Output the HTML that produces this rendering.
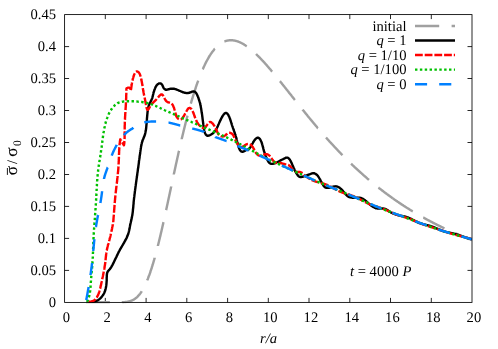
<!DOCTYPE html>
<html><head><meta charset="utf-8"><title>plot</title>
<style>html,body{margin:0;padding:0;background:#fff}svg{display:block;text-rendering:geometricPrecision;will-change:transform}</style></head>
<body>
<svg width="498" height="349" viewBox="0 0 498 349">
<rect width="498" height="349" fill="#fff"/>
<defs><clipPath id="c"><rect x="64.6" y="14.6" width="407.4" height="288.9"/></clipPath></defs>
<path d="M105.3 302.4 v-4.5 M105.3 14.6 v4.5 M146.1 302.4 v-4.5 M146.1 14.6 v4.5 M186.8 302.4 v-4.5 M186.8 14.6 v4.5 M227.6 302.4 v-4.5 M227.6 14.6 v4.5 M268.3 302.4 v-4.5 M268.3 14.6 v4.5 M309.0 302.4 v-4.5 M309.0 14.6 v4.5 M349.8 302.4 v-4.5 M349.8 14.6 v4.5 M390.5 302.4 v-4.5 M390.5 14.6 v4.5 M431.3 302.4 v-4.5 M431.3 14.6 v4.5 M64.6 270.4 h4.5 M472.0 270.4 h-4.5 M64.6 238.4 h4.5 M472.0 238.4 h-4.5 M64.6 206.4 h4.5 M472.0 206.4 h-4.5 M64.6 174.5 h4.5 M472.0 174.5 h-4.5 M64.6 142.5 h4.5 M472.0 142.5 h-4.5 M64.6 110.5 h4.5 M472.0 110.5 h-4.5 M64.6 78.5 h4.5 M472.0 78.5 h-4.5 M64.6 46.6 h4.5 M472.0 46.6 h-4.5" stroke="#000" stroke-width="0.85" fill="none"/>
<g clip-path="url(#c)" fill="none" stroke-width="2.4" stroke-linejoin="round">
<path d="M86.0 302.4 L86.3 302.4 L86.6 302.4 L86.9 302.4 L87.2 302.4 L87.5 302.4 L87.8 302.4 L88.1 302.4 L88.4 302.4 L88.7 302.4 L89.0 302.4 L89.3 302.4 L89.6 302.4 L89.9 302.4 L90.2 302.4 L90.5 302.4 L90.8 302.4 L91.1 302.4 L91.4 302.4 L91.7 302.4 L92.0 302.4 L92.3 302.4 L92.6 302.4 L92.9 302.4 L93.2 302.4 L93.5 302.4 L93.8 302.4 L94.1 302.4 L94.4 302.4 L94.7 302.4 L95.0 302.4 L95.3 302.4 L95.6 302.3 L95.9 302.3 L96.2 302.3 L96.5 302.3 L96.8 302.3 L97.1 302.3 L97.4 302.3 L97.7 302.3 L98.0 302.3 L98.3 302.3 L98.6 302.3 L98.9 302.3 L99.2 302.3 L99.5 302.3 L99.8 302.3 L100.1 302.3 L100.4 302.3 L100.7 302.3 L101.0 302.3 L101.3 302.3 L101.6 302.3 L101.9 302.3 L102.2 302.3 L102.5 302.3 L102.8 302.3 L103.1 302.3 L103.4 302.3 L103.7 302.3 L104.0 302.3 L104.3 302.3 L104.6 302.3 L104.9 302.3 L105.2 302.3 L105.5 302.3 L105.8 302.3 L106.1 302.3 L106.4 302.3 L106.7 302.3 L107.0 302.3 L107.3 302.3 L107.6 302.3 L107.9 302.3 L108.2 302.3 L108.5 302.3 L108.8 302.3 L109.1 302.3 L109.4 302.3 L109.7 302.3 L109.9 302.3 M122.0 302.3 L122.3 302.2 L122.6 302.2 L122.9 302.2 L123.2 302.2 L123.5 302.2 L123.8 302.2 L124.1 302.1 L124.4 302.1 L124.7 302.1 L125.0 302.1 L125.3 302.0 L125.6 302.0 L125.9 302.0 L126.2 301.9 L126.5 301.9 L126.8 301.9 L127.1 301.8 L127.4 301.8 L127.7 301.7 L128.0 301.7 L128.2 301.6 L128.5 301.5 L128.8 301.5 L129.1 301.4 L129.4 301.3 L129.7 301.3 L130.0 301.2 L130.3 301.1 L130.6 301.0 L130.8 300.9 L131.1 300.8 L131.4 300.7 L131.7 300.6 L132.0 300.5 L132.2 300.3 L132.5 300.2 L132.8 300.1 L133.1 299.9 L133.3 299.8 L133.6 299.7 L133.8 299.5 L134.1 299.4 L134.4 299.2 L134.6 299.0 L134.9 298.9 L135.1 298.7 L135.3 298.5 L135.6 298.3 L135.8 298.2 L136.1 298.0 L136.3 297.8 L136.5 297.6 L136.7 297.4 L137.0 297.2 L137.2 297.0 L137.4 296.8 L137.6 296.6 L137.8 296.4 L138.0 296.1 L138.2 295.9 L138.4 295.7 L138.6 295.5 L138.8 295.2 L139.0 295.0 L139.2 294.8 L139.4 294.6 L139.6 294.3 L139.8 294.1 L140.0 293.9 L140.2 293.6 L140.3 293.4 L140.5 293.1 L140.7 292.9 L140.9 292.6 L141.0 292.4 L141.2 292.1 L141.4 291.9 L141.5 291.6 L141.7 291.4 L141.8 291.2 M147.2 280.4 L147.3 280.1 L147.4 279.9 L147.5 279.6 L147.7 279.3 L147.8 279.0 L147.9 278.7 L148.0 278.5 L148.1 278.2 L148.2 277.9 L148.3 277.6 L148.4 277.3 L148.5 277.1 L148.6 276.8 L148.7 276.5 L148.8 276.2 L148.9 275.9 L149.1 275.7 L149.2 275.4 L149.3 275.1 L149.4 274.8 L149.5 274.5 L149.6 274.3 L149.7 274.0 L149.8 273.7 L149.9 273.4 L150.0 273.1 L150.1 272.8 L150.2 272.6 L150.3 272.3 L150.4 272.0 L150.4 271.7 L150.5 271.4 L150.6 271.1 L150.7 270.8 L150.8 270.6 L150.9 270.3 L151.0 270.0 L151.1 269.7 L151.2 269.4 L151.3 269.1 L151.4 268.9 L151.5 268.6 L151.6 268.3 L151.7 268.0 L151.8 267.7 L151.8 267.4 L151.9 267.1 L152.0 266.9 L152.1 266.6 L152.2 266.3 L152.3 266.0 L152.4 265.7 L152.5 265.4 L152.6 265.1 L152.6 264.8 L152.7 264.6 L152.8 264.3 L152.9 264.0 L153.0 263.7 L153.1 263.4 L153.2 263.1 L153.3 262.8 L153.3 262.5 L153.4 262.3 L153.5 262.0 L153.6 261.7 L153.7 261.4 L153.8 261.1 L153.8 260.8 L153.9 260.5 L154.0 260.2 L154.1 260.0 L154.2 259.7 L154.3 259.4 L154.3 259.1 L154.4 258.8 L154.5 258.5 L154.6 258.2 L154.7 257.9 L154.7 257.7 M157.9 245.9 L157.9 245.6 L158.0 245.3 L158.1 245.0 L158.2 244.7 L158.2 244.4 L158.3 244.1 L158.4 243.8 L158.5 243.5 L158.5 243.2 L158.6 242.9 L158.7 242.7 L158.7 242.4 L158.8 242.1 L158.9 241.8 L159.0 241.5 L159.0 241.2 L159.1 240.9 L159.2 240.6 L159.2 240.3 L159.3 240.0 L159.4 239.7 L159.5 239.4 L159.5 239.2 L159.6 238.9 L159.7 238.6 L159.7 238.3 L159.8 238.0 L159.9 237.7 L159.9 237.4 L160.0 237.1 L160.1 236.8 L160.2 236.5 L160.2 236.2 L160.3 235.9 L160.4 235.7 L160.4 235.4 L160.5 235.1 L160.6 234.8 L160.6 234.5 L160.7 234.2 L160.8 233.9 L160.8 233.6 L160.9 233.3 L161.0 233.0 L161.0 232.7 L161.1 232.4 L161.2 232.1 L161.3 231.9 L161.3 231.6 L161.4 231.3 L161.5 231.0 L161.5 230.7 L161.6 230.4 L161.7 230.1 L161.7 229.8 L161.8 229.5 L161.9 229.2 L161.9 228.9 L162.0 228.6 L162.1 228.3 L162.1 228.1 L162.2 227.8 L162.3 227.5 L162.3 227.2 L162.4 226.9 L162.5 226.6 L162.5 226.3 L162.6 226.0 L162.7 225.7 L162.7 225.4 L162.8 225.1 L162.9 224.8 L162.9 224.5 L163.0 224.3 L163.1 224.0 L163.1 223.7 L163.2 223.4 L163.3 223.1 L163.3 222.8 L163.4 222.5 L163.5 222.2 M166.1 210.2 L166.2 209.9 L166.2 209.6 L166.3 209.3 L166.4 209.0 L166.4 208.7 L166.5 208.4 L166.6 208.1 L166.6 207.8 L166.7 207.6 L166.8 207.3 L166.8 207.0 L166.9 206.7 L166.9 206.4 L167.0 206.1 L167.1 205.8 L167.1 205.5 L167.2 205.2 L167.3 204.9 L167.3 204.6 L167.4 204.3 L167.5 204.0 L167.5 203.7 L167.6 203.5 L167.6 203.2 L167.7 202.9 L167.8 202.6 L167.8 202.3 L167.9 202.0 L168.0 201.7 L168.0 201.4 L168.1 201.1 L168.1 200.8 L168.2 200.5 L168.3 200.2 L168.3 199.9 L168.4 199.6 L168.5 199.3 L168.5 199.1 L168.6 198.8 L168.6 198.5 L168.7 198.2 L168.8 197.9 L168.8 197.6 L168.9 197.3 L169.0 197.0 L169.0 196.7 L169.1 196.4 L169.2 196.1 L169.2 195.8 L169.3 195.5 L169.3 195.2 L169.4 194.9 L169.5 194.7 L169.5 194.4 L169.6 194.1 L169.7 193.8 L169.7 193.5 L169.8 193.2 L169.8 192.9 L169.9 192.6 L170.0 192.3 L170.0 192.0 L170.1 191.7 L170.2 191.4 L170.2 191.1 L170.3 190.8 L170.3 190.5 L170.4 190.3 L170.5 190.0 L170.5 189.7 L170.6 189.4 L170.7 189.1 L170.7 188.8 L170.8 188.5 L170.8 188.2 L170.9 187.9 L171.0 187.6 L171.0 187.3 L171.1 187.0 L171.2 186.7 L171.2 186.4 M173.8 174.5 L173.8 174.2 L173.9 173.9 L174.0 173.6 L174.0 173.3 L174.1 173.0 L174.2 172.8 L174.2 172.5 L174.3 172.2 L174.4 171.9 L174.4 171.6 L174.5 171.3 L174.5 171.0 L174.6 170.7 L174.7 170.4 L174.7 170.1 L174.8 169.8 L174.9 169.5 L174.9 169.2 L175.0 168.9 L175.1 168.6 L175.1 168.4 L175.2 168.1 L175.2 167.8 L175.3 167.5 L175.4 167.2 L175.4 166.9 L175.5 166.6 L175.6 166.3 L175.6 166.0 L175.7 165.7 L175.8 165.4 L175.8 165.1 L175.9 164.8 L175.9 164.5 L176.0 164.2 L176.1 164.0 L176.1 163.7 L176.2 163.4 L176.3 163.1 L176.3 162.8 L176.4 162.5 L176.5 162.2 L176.5 161.9 L176.6 161.6 L176.7 161.3 L176.7 161.0 L176.8 160.7 L176.8 160.4 L176.9 160.1 L177.0 159.9 L177.0 159.6 L177.1 159.3 L177.2 159.0 L177.2 158.7 L177.3 158.4 L177.4 158.1 L177.4 157.8 L177.5 157.5 L177.6 157.2 L177.6 156.9 L177.7 156.6 L177.8 156.3 L177.8 156.0 L177.9 155.8 L178.0 155.5 L178.0 155.2 L178.1 154.9 L178.1 154.6 L178.2 154.3 L178.3 154.0 L178.3 153.7 L178.4 153.4 L178.5 153.1 L178.5 152.8 L178.6 152.5 L178.7 152.2 L178.7 151.9 L178.8 151.7 L178.9 151.4 L178.9 151.1 L179.0 151.0 M181.7 139.2 L181.7 138.9 L181.8 138.6 L181.9 138.3 L181.9 138.0 L182.0 137.7 L182.1 137.4 L182.2 137.1 L182.2 136.8 L182.3 136.6 L182.4 136.3 L182.4 136.0 L182.5 135.7 L182.6 135.4 L182.6 135.1 L182.7 134.8 L182.8 134.5 L182.9 134.2 L182.9 133.9 L183.0 133.6 L183.1 133.3 L183.1 133.1 L183.2 132.8 L183.3 132.5 L183.3 132.2 L183.4 131.9 L183.5 131.6 L183.6 131.3 L183.6 131.0 L183.7 130.7 L183.8 130.4 L183.8 130.1 L183.9 129.8 L184.0 129.6 L184.1 129.3 L184.1 129.0 L184.2 128.7 L184.3 128.4 L184.3 128.1 L184.4 127.8 L184.5 127.5 L184.6 127.2 L184.6 126.9 L184.7 126.6 L184.8 126.3 L184.8 126.1 L184.9 125.8 L185.0 125.5 L185.1 125.2 L185.1 124.9 L185.2 124.6 L185.3 124.3 L185.4 124.0 L185.4 123.7 L185.5 123.4 L185.6 123.1 L185.6 122.9 L185.7 122.6 L185.8 122.3 L185.9 122.0 L185.9 121.7 L186.0 121.4 L186.1 121.1 L186.2 120.8 L186.2 120.5 L186.3 120.2 L186.4 120.0 L186.5 119.7 L186.5 119.4 L186.6 119.1 L186.7 118.8 L186.8 118.5 L186.8 118.2 L186.9 117.9 L187.0 117.6 L187.1 117.3 L187.1 117.0 L187.2 116.8 L187.3 116.5 L187.4 116.2 L187.4 115.9 L187.5 115.6 M190.8 103.7 L190.9 103.4 L191.0 103.2 L191.0 102.9 L191.1 102.6 L191.2 102.3 L191.3 102.0 L191.4 101.7 L191.5 101.4 L191.5 101.1 L191.6 100.9 L191.7 100.6 L191.8 100.3 L191.9 100.0 L192.0 99.7 L192.0 99.4 L192.1 99.1 L192.2 98.8 L192.3 98.6 L192.4 98.3 L192.5 98.0 L192.6 97.7 L192.7 97.4 L192.7 97.1 L192.8 96.8 L192.9 96.5 L193.0 96.3 L193.1 96.0 L193.2 95.7 L193.3 95.4 L193.4 95.1 L193.4 94.8 L193.5 94.5 L193.6 94.3 L193.7 94.0 L193.8 93.7 L193.9 93.4 L194.0 93.1 L194.1 92.8 L194.2 92.5 L194.3 92.2 L194.3 92.0 L194.4 91.7 L194.5 91.4 L194.6 91.1 L194.7 90.8 L194.8 90.5 L194.9 90.3 L195.0 90.0 L195.1 89.7 L195.2 89.4 L195.3 89.1 L195.4 88.8 L195.5 88.5 L195.6 88.3 L195.7 88.0 L195.7 87.7 L195.8 87.4 L195.9 87.1 L196.0 86.8 L196.1 86.5 L196.2 86.3 L196.3 86.0 L196.4 85.7 L196.5 85.4 L196.6 85.1 L196.7 84.8 L196.8 84.6 L196.9 84.3 L197.0 84.0 L197.1 83.7 L197.2 83.4 L197.3 83.1 L197.4 82.9 L197.5 82.6 L197.6 82.3 L197.7 82.0 L197.8 81.7 L197.9 81.5 L198.0 81.2 L198.1 80.9 L198.2 80.6 M202.7 69.3 L202.9 69.0 L203.0 68.7 L203.1 68.5 L203.2 68.2 L203.4 67.9 L203.5 67.6 L203.6 67.4 L203.7 67.1 L203.9 66.8 L204.0 66.5 L204.1 66.3 L204.2 66.0 L204.4 65.7 L204.5 65.5 L204.6 65.2 L204.7 64.9 L204.9 64.6 L205.0 64.4 L205.1 64.1 L205.3 63.8 L205.4 63.6 L205.5 63.3 L205.7 63.0 L205.8 62.8 L205.9 62.5 L206.1 62.2 L206.2 62.0 L206.4 61.7 L206.5 61.4 L206.6 61.2 L206.8 60.9 L206.9 60.6 L207.1 60.4 L207.2 60.1 L207.4 59.8 L207.5 59.6 L207.6 59.3 L207.8 59.1 L207.9 58.8 L208.1 58.5 L208.2 58.3 L208.4 58.0 L208.5 57.8 L208.7 57.5 L208.8 57.2 L209.0 57.0 L209.1 56.7 L209.3 56.5 L209.5 56.2 L209.6 56.0 L209.8 55.7 L209.9 55.5 L210.1 55.2 L210.3 54.9 L210.4 54.7 L210.6 54.4 L210.8 54.2 L210.9 53.9 L211.1 53.7 L211.3 53.4 L211.4 53.2 L211.6 53.0 L211.8 52.7 L211.9 52.5 L212.1 52.2 L212.3 52.0 L212.5 51.7 L212.7 51.5 L212.8 51.3 L213.0 51.0 L213.2 50.8 L213.4 50.5 L213.6 50.3 L213.8 50.1 L214.0 49.8 L214.1 49.6 L214.3 49.4 L214.5 49.2 L214.7 48.9 L214.9 48.8 M224.4 41.5 L224.7 41.4 L225.0 41.3 L225.2 41.2 L225.5 41.1 L225.8 41.0 L226.1 40.9 L226.4 40.8 L226.7 40.8 L227.0 40.7 L227.3 40.6 L227.6 40.6 L227.9 40.5 L228.1 40.5 L228.4 40.4 L228.7 40.4 L229.0 40.3 L229.3 40.3 L229.6 40.3 L229.9 40.3 L230.2 40.2 L230.5 40.2 L230.8 40.2 L231.1 40.2 L231.4 40.2 L231.7 40.3 L232.0 40.3 L232.3 40.3 L232.6 40.3 L232.9 40.3 L233.2 40.4 L233.5 40.4 L233.8 40.5 L234.1 40.5 L234.4 40.6 L234.7 40.6 L235.0 40.7 L235.3 40.8 L235.6 40.8 L235.9 40.9 L236.2 41.0 L236.5 41.1 L236.7 41.1 L237.0 41.2 L237.3 41.3 L237.6 41.4 L237.9 41.5 L238.2 41.6 L238.4 41.7 L238.7 41.8 L239.0 41.9 L239.3 42.1 L239.6 42.2 L239.8 42.3 L240.1 42.4 L240.4 42.5 L240.7 42.7 L240.9 42.8 L241.2 42.9 L241.5 43.1 L241.7 43.2 L242.0 43.3 L242.3 43.5 L242.5 43.6 L242.8 43.8 L243.0 43.9 L243.3 44.1 L243.6 44.2 L243.8 44.4 L244.1 44.5 L244.3 44.7 L244.6 44.8 L244.8 45.0 L245.1 45.2 L245.3 45.3 L245.6 45.5 L245.8 45.7 L246.1 45.8 L246.3 46.0 L246.6 46.2 L246.8 46.3 M256.0 54.0 L256.2 54.2 L256.5 54.5 L256.7 54.7 L256.9 54.9 L257.1 55.1 L257.3 55.3 L257.5 55.5 L257.7 55.7 L258.0 55.9 L258.2 56.1 L258.4 56.3 L258.6 56.6 L258.8 56.8 L259.0 57.0 L259.2 57.2 L259.4 57.4 L259.6 57.6 L259.9 57.8 L260.1 58.1 L260.3 58.3 L260.5 58.5 L260.7 58.7 L260.9 58.9 L261.1 59.1 L261.3 59.4 L261.5 59.6 L261.7 59.8 L261.9 60.0 L262.1 60.2 L262.3 60.5 L262.5 60.7 L262.7 60.9 L262.9 61.1 L263.2 61.3 L263.4 61.6 L263.6 61.8 L263.8 62.0 L264.0 62.2 L264.2 62.4 L264.4 62.7 L264.6 62.9 L264.8 63.1 L265.0 63.3 L265.2 63.6 L265.4 63.8 L265.6 64.0 L265.8 64.2 L266.0 64.5 L266.2 64.7 L266.4 64.9 L266.6 65.1 L266.8 65.3 L267.0 65.6 L267.2 65.8 L267.4 66.0 L267.6 66.3 L267.7 66.5 L267.9 66.7 L268.1 66.9 L268.3 67.2 L268.5 67.4 L268.7 67.6 L268.9 67.8 L269.1 68.1 L269.3 68.3 L269.5 68.5 L269.7 68.7 L269.9 69.0 L270.1 69.2 L270.3 69.4 L270.5 69.7 L270.7 69.9 L270.9 70.1 L271.1 70.4 L271.3 70.6 L271.5 70.8 L271.6 71.0 L271.8 71.3 L272.0 71.5 L272.2 71.7 M279.9 81.1 L280.1 81.3 L280.3 81.6 L280.5 81.8 L280.6 82.0 L280.8 82.3 L281.0 82.5 L281.2 82.7 L281.4 83.0 L281.6 83.2 L281.8 83.4 L282.0 83.7 L282.1 83.9 L282.3 84.1 L282.5 84.4 L282.7 84.6 L282.9 84.8 L283.1 85.1 L283.3 85.3 L283.5 85.5 L283.6 85.8 L283.8 86.0 L284.0 86.2 L284.2 86.5 L284.4 86.7 L284.6 86.9 L284.8 87.2 L284.9 87.4 L285.1 87.7 L285.3 87.9 L285.5 88.1 L285.7 88.4 L285.9 88.6 L286.1 88.8 L286.3 89.1 L286.4 89.3 L286.6 89.5 L286.8 89.8 L287.0 90.0 L287.2 90.2 L287.4 90.5 L287.6 90.7 L287.7 90.9 L287.9 91.2 L288.1 91.4 L288.3 91.7 L288.5 91.9 L288.7 92.1 L288.9 92.4 L289.0 92.6 L289.2 92.8 L289.4 93.1 L289.6 93.3 L289.8 93.5 L290.0 93.8 L290.2 94.0 L290.3 94.2 L290.5 94.5 L290.7 94.7 L290.9 94.9 L291.1 95.2 L291.3 95.4 L291.5 95.7 L291.7 95.9 L291.8 96.1 L292.0 96.4 L292.2 96.6 L292.4 96.8 L292.6 97.1 L292.8 97.3 L293.0 97.5 L293.1 97.8 L293.3 98.0 L293.5 98.2 L293.7 98.5 L293.9 98.7 L294.1 98.9 L294.3 99.2 L294.4 99.4 L294.6 99.6 L294.8 99.9 L294.9 100.0 M302.6 109.6 L302.7 109.8 L302.9 110.0 L303.1 110.3 L303.3 110.5 L303.5 110.7 L303.7 111.0 L303.9 111.2 L304.1 111.4 L304.2 111.7 L304.4 111.9 L304.6 112.1 L304.8 112.4 L305.0 112.6 L305.2 112.8 L305.4 113.1 L305.6 113.3 L305.8 113.5 L305.9 113.8 L306.1 114.0 L306.3 114.2 L306.5 114.5 L306.7 114.7 L306.9 114.9 L307.1 115.2 L307.3 115.4 L307.5 115.6 L307.7 115.9 L307.8 116.1 L308.0 116.3 L308.2 116.6 L308.4 116.8 L308.6 117.0 L308.8 117.3 L309.0 117.5 L309.2 117.7 L309.4 118.0 L309.6 118.2 L309.7 118.4 L309.9 118.7 L310.1 118.9 L310.3 119.1 L310.5 119.3 L310.7 119.6 L310.9 119.8 L311.1 120.0 L311.3 120.3 L311.5 120.5 L311.7 120.7 L311.8 121.0 L312.0 121.2 L312.2 121.4 L312.4 121.7 L312.6 121.9 L312.8 122.1 L313.0 122.3 L313.2 122.6 L313.4 122.8 L313.6 123.0 L313.8 123.3 L314.0 123.5 L314.2 123.7 L314.3 124.0 L314.5 124.2 L314.7 124.4 L314.9 124.6 L315.1 124.9 L315.3 125.1 L315.5 125.3 L315.7 125.6 L315.9 125.8 L316.1 126.0 L316.3 126.3 L316.5 126.5 L316.7 126.7 L316.9 126.9 L317.1 127.2 L317.2 127.4 L317.4 127.6 L317.6 127.9 L317.8 128.1 L318.0 128.2 M326.0 137.5 L326.2 137.7 L326.4 138.0 L326.6 138.2 L326.8 138.4 L327.0 138.6 L327.2 138.9 L327.4 139.1 L327.6 139.3 L327.8 139.5 L328.0 139.8 L328.2 140.0 L328.4 140.2 L328.6 140.4 L328.8 140.6 L329.0 140.9 L329.2 141.1 L329.4 141.3 L329.6 141.5 L329.8 141.8 L330.0 142.0 L330.2 142.2 L330.4 142.4 L330.6 142.6 L330.8 142.9 L331.1 143.1 L331.3 143.3 L331.5 143.5 L331.7 143.8 L331.9 144.0 L332.1 144.2 L332.3 144.4 L332.5 144.6 L332.7 144.9 L332.9 145.1 L333.1 145.3 L333.3 145.5 L333.5 145.7 L333.7 146.0 L333.9 146.2 L334.1 146.4 L334.3 146.6 L334.5 146.8 L334.7 147.1 L334.9 147.3 L335.1 147.5 L335.3 147.7 L335.5 147.9 L335.7 148.2 L335.9 148.4 L336.2 148.6 L336.4 148.8 L336.6 149.0 L336.8 149.2 L337.0 149.5 L337.2 149.7 L337.4 149.9 L337.6 150.1 L337.8 150.3 L338.0 150.5 L338.2 150.8 L338.4 151.0 L338.6 151.2 L338.8 151.4 L339.0 151.6 L339.3 151.9 L339.5 152.1 L339.7 152.3 L339.9 152.5 L340.1 152.7 L340.3 152.9 L340.5 153.1 L340.7 153.4 L340.9 153.6 L341.1 153.8 L341.3 154.0 L341.5 154.2 L341.8 154.4 L342.0 154.7 L342.2 154.9 L342.4 155.1 L342.5 155.2 M351.1 163.7 L351.3 163.9 L351.6 164.2 L351.8 164.4 L352.0 164.6 L352.2 164.8 L352.4 165.0 L352.6 165.2 L352.9 165.4 L353.1 165.6 L353.3 165.8 L353.5 166.0 L353.7 166.2 L353.9 166.4 L354.2 166.6 L354.4 166.8 L354.6 167.0 L354.8 167.3 L355.0 167.5 L355.3 167.7 L355.5 167.9 L355.7 168.1 L355.9 168.3 L356.1 168.5 L356.4 168.7 L356.6 168.9 L356.8 169.1 L357.0 169.3 L357.2 169.5 L357.5 169.7 L357.7 169.9 L357.9 170.1 L358.1 170.3 L358.3 170.5 L358.6 170.7 L358.8 170.9 L359.0 171.1 L359.2 171.3 L359.4 171.5 L359.7 171.7 L359.9 171.9 L360.1 172.1 L360.3 172.3 L360.6 172.5 L360.8 172.7 L361.0 172.9 L361.2 173.1 L361.5 173.3 L361.7 173.5 L361.9 173.7 L362.1 173.9 L362.3 174.1 L362.6 174.3 L362.8 174.5 L363.0 174.7 L363.2 174.9 L363.5 175.1 L363.7 175.3 L363.9 175.5 L364.1 175.7 L364.4 175.9 L364.6 176.1 L364.8 176.3 L365.1 176.5 L365.3 176.7 L365.5 176.9 L365.7 177.1 L366.0 177.3 L366.2 177.5 L366.4 177.7 L366.6 177.9 L366.9 178.1 L367.1 178.3 L367.3 178.5 L367.5 178.7 L367.8 178.9 L368.0 179.1 L368.2 179.2 L368.5 179.4 L368.7 179.6 L368.9 179.8 L369.0 179.9 M378.4 187.6 L378.7 187.8 L378.9 188.0 L379.1 188.2 L379.4 188.4 L379.6 188.5 L379.9 188.7 L380.1 188.9 L380.3 189.1 L380.6 189.3 L380.8 189.5 L381.0 189.6 L381.3 189.8 L381.5 190.0 L381.8 190.2 L382.0 190.4 L382.2 190.6 L382.5 190.7 L382.7 190.9 L382.9 191.1 L383.2 191.3 L383.4 191.5 L383.7 191.7 L383.9 191.8 L384.1 192.0 L384.4 192.2 L384.6 192.4 L384.9 192.6 L385.1 192.7 L385.3 192.9 L385.6 193.1 L385.8 193.3 L386.1 193.5 L386.3 193.6 L386.5 193.8 L386.8 194.0 L387.0 194.2 L387.3 194.3 L387.5 194.5 L387.8 194.7 L388.0 194.9 L388.2 195.1 L388.5 195.2 L388.7 195.4 L389.0 195.6 L389.2 195.8 L389.4 195.9 L389.7 196.1 L389.9 196.3 L390.2 196.5 L390.4 196.6 L390.7 196.8 L390.9 197.0 L391.2 197.2 L391.4 197.3 L391.6 197.5 L391.9 197.7 L392.1 197.9 L392.4 198.0 L392.6 198.2 L392.7 198.3 M392.8 198.3 L393.0 198.5 L393.3 198.7 L393.5 198.8 L393.8 199.0 L394.0 199.2 L394.3 199.4 L394.5 199.5 L394.7 199.7 L395.0 199.9 L395.2 200.0 L395.5 200.2 L395.7 200.4 L396.0 200.6 L396.2 200.7 L396.5 200.9 L396.7 201.1 L397.0 201.2 L397.2 201.4 L397.5 201.6 L397.7 201.7 L398.0 201.9 L398.2 202.1 L398.5 202.3 L398.7 202.4 L399.0 202.6 L399.2 202.8 L399.5 202.9 L399.7 203.1 L399.9 203.3 L400.2 203.4 L400.4 203.6 L400.7 203.8 L400.9 203.9 L401.2 204.1 L401.4 204.3 L401.7 204.4 L401.9 204.6 L402.2 204.7 L402.5 204.9 L402.7 205.1 L403.0 205.2 L403.2 205.4 L403.5 205.6 L403.7 205.7 L404.0 205.9 L404.2 206.1 L404.5 206.2 L404.7 206.4 L405.0 206.5 L405.2 206.7 L405.5 206.9 L405.7 207.0 L406.0 207.2 L406.2 207.4 L406.5 207.5 L406.7 207.7 L407.0 207.8 L407.2 208.0 L407.5 208.2 L407.8 208.3 L408.0 208.5 L408.3 208.6 L408.5 208.8 L408.8 209.0 L409.0 209.1 L409.3 209.3 L409.5 209.4 L409.8 209.6 L410.0 209.7 L410.3 209.9 L410.6 210.1 L410.8 210.2 L411.1 210.4 L411.3 210.5 L411.6 210.7 L411.8 210.8 L412.1 211.0 L412.3 211.2 L412.6 211.3 L412.8 211.4 M423.2 217.5 L423.5 217.6 L423.8 217.8 L424.0 217.9 L424.3 218.1 L424.5 218.2 L424.8 218.4 L425.1 218.5 L425.3 218.7 L425.6 218.8 L425.9 218.9 L426.1 219.1 L426.4 219.2 L426.7 219.4 L426.9 219.5 L427.2 219.7 L427.4 219.8 L427.7 219.9 L428.0 220.1 L428.2 220.2 L428.5 220.4 L428.8 220.5 L429.0 220.6 L429.3 220.8 L429.6 220.9 L429.8 221.1 L430.1 221.2 L430.4 221.3 L430.6 221.5 L430.9 221.6 L431.2 221.8 L431.4 221.9 L431.7 222.0 L432.0 222.2 L432.2 222.3 L432.5 222.5 L432.8 222.6 L433.0 222.7 L433.3 222.9 L433.6 223.0 L433.8 223.1 L434.1 223.3 L434.4 223.4 L434.6 223.6 L434.9 223.7 L435.2 223.8 L435.4 224.0 L435.7 224.1 L436.0 224.2 L436.2 224.4 L436.5 224.5 L436.8 224.6 L437.0 224.8 L437.3 224.9 L437.6 225.0 L437.8 225.2 L438.1 225.3 L438.4 225.4 L438.6 225.6 L438.9 225.7 L439.2 225.8 L439.4 226.0 L439.7 226.1 L440.0 226.2 L440.3 226.4 L440.5 226.5 L440.8 226.6 L441.1 226.8 L441.3 226.9 L441.6 227.0 L441.9 227.2 L442.1 227.3 L442.4 227.4 L442.7 227.5 L443.0 227.7 L443.2 227.8 L443.5 227.9 L443.8 228.1 L444.0 228.2 L444.3 228.3 L444.5 228.4 M455.5 233.4 L455.8 233.5 L456.1 233.6 L456.3 233.7 L456.6 233.9 L456.9 234.0 L457.2 234.1 L457.4 234.2 L457.7 234.3 L458.0 234.5 L458.3 234.6 L458.6 234.7 L458.8 234.8 L459.1 234.9 L459.4 235.0 L459.7 235.2 L459.9 235.3 L460.2 235.4 L460.5 235.5 L460.8 235.6 L461.0 235.7 L461.3 235.8 L461.6 236.0 L461.9 236.1 L462.2 236.2 L462.4 236.3 L462.7 236.4 L463.0 236.5 L463.3 236.6 L463.5 236.8 L463.8 236.9 L464.1 237.0 L464.4 237.1 L464.7 237.2 L464.9 237.3 L465.2 237.4 L465.5 237.5 L465.8 237.7 L466.0 237.8 L466.3 237.9 L466.6 238.0 L466.9 238.1 L467.2 238.2 L467.4 238.3 L467.7 238.4 L468.0 238.5 L468.3 238.7 L468.6 238.8 L468.8 238.9 L469.1 239.0 L469.4 239.1 L469.7 239.2 L470.0 239.3 L470.2 239.4 L470.5 239.5 L470.8 239.6 L471.1 239.7 L471.4 239.9 L471.6 240.0 L471.9 240.1" stroke="#a0a0a0"/>
<path d="M91.5 301.8 L92.0 301.8 L92.4 301.7 L92.9 301.7 L93.4 301.6 L93.8 301.5 L94.2 301.5 L94.7 301.4 L95.1 301.3 L95.5 301.2 L95.9 301.0 L96.3 300.9 L96.7 300.7 L97.1 300.6 L97.5 300.4 L97.9 300.2 L98.2 300.0 L98.6 299.7 L99.0 299.5 L99.3 299.2 L99.7 298.9 L100.0 298.6 L100.4 298.3 L100.7 298.0 L101.1 297.6 L101.4 297.2 L101.7 296.8 L102.0 296.5 L102.3 296.0 L102.6 295.6 L102.9 295.2 L103.2 294.8 L103.5 294.3 L103.7 293.9 L104.0 293.4 L104.2 293.0 L104.4 292.5 L104.6 292.0 L104.8 291.5 L105.0 291.0 L105.2 290.5 L105.3 290.0 L105.5 289.4 L105.6 288.9 L105.7 288.3 L105.9 287.7 L106.0 287.1 L106.1 286.5 L106.2 285.9 L106.3 285.2 L106.4 284.6 L106.4 284.0 L106.5 283.4 L106.5 282.8 L106.6 282.1 L106.6 281.5 L106.7 280.9 L106.7 280.3 L106.7 279.8 L106.7 279.2 L106.7 278.7 L106.7 278.2 L106.7 277.6 L106.8 277.1 L106.8 276.7 L106.8 276.2 L106.8 275.7 L106.8 275.3 L106.9 274.8 L106.9 274.4 L107.0 274.0 L107.0 273.6 L107.1 273.2 L107.2 272.8 L107.4 272.4 L107.5 272.1 L107.7 271.7 L107.9 271.3 L108.1 271.0 L108.5 270.6 L108.8 270.3 L109.2 269.9 L109.5 269.5 L109.9 269.1 L110.2 268.6 L110.5 268.2 L110.8 267.8 L111.1 267.3 L111.4 266.9 L111.7 266.4 L111.9 265.9 L112.2 265.5 L112.5 265.0 L112.7 264.5 L113.0 263.9 L113.3 263.4 L113.5 262.9 L113.8 262.4 L114.0 261.8 L114.3 261.2 L114.6 260.7 L114.8 260.1 L115.1 259.5 L115.4 258.9 L115.7 258.3 L116.0 257.7 L116.3 257.1 L116.6 256.5 L116.9 255.8 L117.2 255.2 L117.5 254.6 L117.8 253.9 L118.1 253.3 L118.4 252.7 L118.7 252.1 L119.0 251.4 L119.4 250.8 L119.7 250.2 L120.0 249.6 L120.3 249.0 L120.7 248.5 L121.0 247.9 L121.3 247.3 L121.6 246.8 L121.9 246.3 L122.2 245.7 L122.6 245.2 L122.9 244.7 L123.2 244.2 L123.5 243.7 L123.8 243.2 L124.1 242.7 L124.3 242.2 L124.6 241.7 L124.9 241.2 L125.2 240.7 L125.4 240.2 L125.7 239.7 L125.9 239.2 L126.2 238.8 L126.4 238.3 L126.7 237.8 L126.9 237.3 L127.1 236.8 L127.3 236.3 L127.5 235.8 L127.7 235.2 L127.9 234.7 L128.1 234.2 L128.3 233.7 L128.4 233.2 L128.6 232.6 L128.7 232.1 L128.9 231.6 L129.0 231.1 L129.1 230.6 L129.2 230.2 L129.3 229.7 L129.4 229.2 L129.5 228.8 L129.6 228.4 L129.7 227.9 L129.7 227.5 L129.8 227.0 L129.9 226.6 L130.0 226.1 L130.1 225.6 L130.2 225.1 L130.3 224.6 L130.4 224.0 L130.5 223.4 L130.7 222.8 L130.8 222.2 L131.0 221.6 L131.1 220.9 L131.3 220.2 L131.4 219.6 L131.6 218.9 L131.7 218.2 L131.9 217.4 L132.0 216.7 L132.1 216.0 L132.3 215.3 L132.4 214.5 L132.5 213.8 L132.6 213.1 L132.7 212.3 L132.8 211.6 L132.9 210.8 L132.9 210.0 L133.0 209.3 L133.1 208.5 L133.2 207.7 L133.3 206.9 L133.3 206.1 L133.4 205.2 L133.5 204.4 L133.6 203.5 L133.6 202.6 L133.7 201.7 L133.8 200.7 L133.9 199.8 L134.0 198.8 L134.1 197.8 L134.3 196.7 L134.4 195.7 L134.5 194.6 L134.7 193.5 L134.8 192.4 L134.9 191.3 L135.1 190.2 L135.2 189.1 L135.4 188.0 L135.5 186.8 L135.7 185.7 L135.8 184.6 L136.0 183.5 L136.1 182.4 L136.3 181.3 L136.4 180.2 L136.6 179.1 L136.7 178.1 L136.9 177.0 L137.0 176.0 L137.2 175.0 L137.3 174.0 L137.4 173.0 L137.6 172.1 L137.7 171.2 L137.8 170.3 L137.9 169.5 L138.0 168.6 L138.2 167.8 L138.3 167.0 L138.4 166.2 L138.5 165.4 L138.6 164.7 L138.7 164.0 L138.8 163.2 L138.9 162.5 L138.9 161.9 L139.0 161.2 L139.1 160.5 L139.2 159.9 L139.3 159.2 L139.4 158.6 L139.5 158.0 L139.6 157.4 L139.6 156.7 L139.7 156.1 L139.8 155.5 L139.9 154.9 L140.0 154.3 L140.1 153.7 L140.2 153.1 L140.2 152.5 L140.3 151.8 L140.4 151.2 L140.5 150.5 L140.6 149.9 L140.7 149.2 L140.8 148.5 L140.9 147.9 L141.0 147.2 L141.1 146.5 L141.2 145.9 L141.4 145.2 L141.5 144.6 L141.6 143.9 L141.8 143.3 L141.9 142.7 L142.1 142.1 L142.3 141.5 L142.5 140.9 L142.6 140.4 L142.8 139.8 L143.1 139.3 L143.3 138.8 L143.5 138.3 L143.7 137.8 L143.9 137.3 L144.1 136.8 L144.3 136.4 L144.5 135.9 L144.6 135.4 L144.8 135.0 L144.9 134.5 L145.1 134.0 L145.2 133.5 L145.3 133.0 L145.4 132.6 L145.5 132.1 L145.6 131.6 L145.7 131.1 L145.8 130.6 L145.9 130.0 L146.0 129.5 L146.0 129.0 L146.1 128.4 L146.2 127.9 L146.2 127.3 L146.3 126.8 L146.3 126.2 L146.4 125.6 L146.4 125.1 L146.5 124.5 L146.5 123.9 L146.6 123.4 L146.6 122.8 L146.7 122.2 L146.7 121.7 L146.8 121.1 L146.8 120.5 L146.9 120.0 L146.9 119.4 L146.9 118.9 L147.0 118.3 L147.0 117.8 L147.1 117.2 L147.1 116.7 L147.2 116.1 L147.2 115.6 L147.3 115.0 L147.3 114.5 L147.4 113.9 L147.4 113.4 L147.5 112.9 L147.5 112.3 L147.6 111.8 L147.7 111.3 L147.7 110.9 L147.8 110.4 L147.8 109.9 L147.9 109.5 L147.9 109.1 L148.0 108.6 L148.0 108.2 L148.1 107.9 L148.2 107.5 L148.2 107.1 L148.3 106.8 L148.4 106.4 L148.5 106.1 L148.6 105.7 L148.8 105.4 L148.9 105.1 L149.1 104.7 L149.2 104.4 L149.4 104.0 L149.6 103.7 L149.8 103.3 L150.0 102.9 L150.2 102.5 L150.4 102.1 L150.6 101.7 L150.9 101.2 L151.1 100.8 L151.3 100.4 L151.5 99.9 L151.7 99.4 L151.9 98.9 L152.1 98.5 L152.3 98.0 L152.4 97.5 L152.5 96.9 L152.7 96.4 L152.8 95.9 L152.9 95.4 L153.0 94.9 L153.2 94.4 L153.3 93.9 L153.4 93.3 L153.5 92.8 L153.7 92.3 L153.8 91.8 L154.0 91.4 L154.1 90.9 L154.3 90.4 L154.4 89.9 L154.6 89.5 L154.8 89.1 L154.9 88.6 L155.1 88.2 L155.3 87.8 L155.5 87.4 L155.6 87.1 L155.8 86.7 L156.0 86.4 L156.2 86.0 L156.4 85.7 L156.7 85.4 L156.9 85.1 L157.1 84.8 L157.4 84.6 L157.7 84.3 L158.0 84.1 L158.3 83.9 L158.6 83.7 L158.9 83.5 L159.2 83.4 L159.6 83.4 L159.9 83.4 L160.3 83.4 L160.6 83.5 L160.9 83.6 L161.2 83.8 L161.5 84.0 L161.8 84.3 L162.0 84.6 L162.2 84.9 L162.4 85.3 L162.6 85.7 L162.8 86.1 L162.9 86.5 L163.1 86.9 L163.3 87.3 L163.5 87.7 L163.7 88.1 L163.9 88.4 L164.2 88.7 L164.5 89.0 L164.8 89.2 L165.1 89.4 L165.4 89.5 L165.7 89.7 L166.1 89.7 L166.5 89.7 L166.9 89.7 L167.3 89.6 L167.7 89.5 L168.1 89.4 L168.5 89.3 L169.0 89.2 L169.4 89.0 L169.9 88.9 L170.3 88.8 L170.8 88.8 L171.3 88.7 L171.7 88.7 L172.2 88.7 L172.7 88.7 L173.2 88.7 L173.6 88.8 L174.1 88.8 L174.6 88.9 L175.0 89.0 L175.5 89.1 L176.0 89.3 L176.4 89.4 L176.8 89.6 L177.3 89.8 L177.7 90.0 L178.2 90.2 L178.6 90.4 L179.1 90.6 L179.6 90.8 L180.1 91.0 L180.6 91.2 L181.1 91.5 L181.6 91.7 L182.1 91.9 L182.6 92.1 L183.1 92.3 L183.6 92.4 L184.2 92.6 L184.7 92.7 L185.2 92.8 L185.6 92.9 L186.1 93.0 L186.5 93.1 L187.0 93.1 L187.4 93.1 L187.8 93.0 L188.2 93.0 L188.6 92.9 L189.0 92.8 L189.5 92.7 L189.9 92.5 L190.3 92.4 L190.7 92.2 L191.2 92.1 L191.6 91.9 L192.1 91.7 L192.5 91.6 L192.9 91.5 L193.4 91.5 L193.8 91.4 L194.1 91.5 L194.5 91.6 L194.9 91.8 L195.2 92.0 L195.5 92.3 L195.8 92.6 L196.1 93.0 L196.4 93.4 L196.6 93.9 L196.9 94.3 L197.1 94.8 L197.4 95.4 L197.6 95.9 L197.8 96.5 L198.1 97.0 L198.3 97.6 L198.5 98.2 L198.7 98.8 L198.9 99.5 L199.1 100.1 L199.3 100.7 L199.5 101.4 L199.7 102.0 L199.9 102.7 L200.1 103.4 L200.2 104.1 L200.4 104.8 L200.5 105.5 L200.7 106.1 L200.8 106.8 L200.9 107.6 L201.1 108.3 L201.2 109.0 L201.3 109.7 L201.4 110.4 L201.5 111.2 L201.6 111.9 L201.7 112.6 L201.9 113.4 L202.0 114.2 L202.1 114.9 L202.2 115.7 L202.3 116.5 L202.4 117.2 L202.5 118.0 L202.6 118.8 L202.7 119.6 L202.8 120.4 L202.9 121.2 L203.0 121.9 L203.1 122.7 L203.2 123.4 L203.3 124.1 L203.4 124.9 L203.5 125.5 L203.5 126.2 L203.6 126.9 L203.7 127.5 L203.8 128.1 L203.9 128.6 L204.0 129.2 L204.1 129.7 L204.2 130.2 L204.3 130.6 L204.4 131.1 L204.5 131.5 L204.6 131.9 L204.7 132.3 L204.9 132.7 L205.1 133.2 L205.3 133.6 L205.5 133.9 L205.7 134.3 L205.9 134.7 L206.2 135.0 L206.5 135.2 L206.8 135.5 L207.1 135.6 L207.4 135.8 L207.7 135.8 L208.0 135.8 L208.4 135.7 L208.8 135.6 L209.1 135.5 L209.5 135.3 L209.9 135.2 L210.3 135.0 L210.7 134.7 L211.1 134.5 L211.5 134.3 L211.9 134.0 L212.3 133.8 L212.7 133.5 L213.0 133.2 L213.4 132.9 L213.8 132.5 L214.1 132.2 L214.5 131.8 L214.8 131.4 L215.1 131.0 L215.5 130.5 L215.8 130.0 L216.1 129.5 L216.4 129.0 L216.6 128.5 L216.9 128.0 L217.2 127.4 L217.5 126.8 L217.8 126.2 L218.0 125.6 L218.3 124.9 L218.6 124.3 L218.9 123.6 L219.2 122.9 L219.5 122.2 L219.8 121.5 L220.1 120.9 L220.5 120.2 L220.8 119.5 L221.1 118.8 L221.4 118.2 L221.7 117.6 L222.1 117.0 L222.4 116.4 L222.7 115.9 L223.1 115.3 L223.4 114.9 L223.7 114.4 L224.1 114.1 L224.4 113.7 L224.7 113.4 L225.1 113.2 L225.4 113.1 L225.7 113.0 L226.1 113.0 L226.4 113.0 L226.7 113.2 L227.0 113.4 L227.3 113.7 L227.6 114.0 L227.9 114.4 L228.2 114.8 L228.5 115.3 L228.7 115.8 L229.0 116.3 L229.2 116.8 L229.5 117.4 L229.7 118.0 L229.9 118.5 L230.1 119.1 L230.3 119.7 L230.5 120.3 L230.7 120.9 L230.9 121.5 L231.1 122.2 L231.3 122.8 L231.5 123.5 L231.7 124.1 L231.9 124.8 L232.1 125.4 L232.3 126.1 L232.6 126.8 L232.8 127.4 L233.0 128.1 L233.3 128.8 L233.5 129.5 L233.8 130.2 L234.0 130.9 L234.3 131.6 L234.5 132.3 L234.7 133.0 L235.0 133.8 L235.2 134.5 L235.5 135.2 L235.7 136.0 L235.9 136.7 L236.1 137.5 L236.4 138.2 L236.6 139.0 L236.7 139.7 L236.9 140.5 L237.1 141.2 L237.3 142.0 L237.5 142.7 L237.6 143.4 L237.8 144.2 L238.0 144.9 L238.2 145.5 L238.4 146.2 L238.6 146.8 L238.8 147.5 L239.0 148.1 L239.2 148.6 L239.5 149.1 L239.7 149.6 L240.0 150.1 L240.3 150.5 L240.6 150.9 L240.9 151.2 L241.2 151.4 L241.6 151.6 L241.9 151.7 L242.3 151.8 L242.7 151.8 L243.1 151.7 L243.5 151.5 L243.9 151.4 L244.3 151.1 L244.7 150.9 L245.1 150.7 L245.5 150.4 L245.9 150.2 L246.3 150.0 L246.7 149.9 L247.0 149.8 L247.4 149.7 L247.7 149.6 L248.0 149.5 L248.3 149.4 L248.6 149.3 L249.0 149.0 L249.3 148.7 L249.6 148.4 L249.9 148.0 L250.2 147.5 L250.6 147.0 L250.9 146.4 L251.3 145.8 L251.6 145.2 L251.9 144.6 L252.3 143.9 L252.7 143.3 L253.0 142.6 L253.4 142.0 L253.7 141.4 L254.1 140.8 L254.5 140.3 L254.9 139.8 L255.2 139.3 L255.6 138.9 L256.0 138.6 L256.4 138.3 L256.7 138.0 L257.1 137.8 L257.5 137.7 L257.8 137.7 L258.2 137.7 L258.5 137.8 L258.9 138.0 L259.2 138.3 L259.5 138.6 L259.8 138.9 L260.1 139.3 L260.4 139.8 L260.6 140.2 L260.9 140.8 L261.1 141.3 L261.4 141.8 L261.6 142.4 L261.8 143.0 L262.0 143.6 L262.2 144.3 L262.4 144.9 L262.5 145.6 L262.7 146.2 L262.9 146.9 L263.1 147.6 L263.3 148.3 L263.4 149.0 L263.6 149.7 L263.8 150.4 L264.0 151.2 L264.3 151.9 L264.5 152.6 L264.7 153.3 L265.0 154.0 L265.2 154.7 L265.5 155.4 L265.7 156.1 L266.0 156.8 L266.3 157.4 L266.5 158.1 L266.8 158.7 L267.1 159.3 L267.4 159.8 L267.6 160.4 L267.9 160.9 L268.2 161.3 L268.5 161.8 L268.7 162.2 L269.0 162.5 L269.3 162.8 L269.6 163.1 L270.0 163.4 L270.3 163.5 L270.7 163.7 L271.0 163.8 L271.4 163.9 L271.9 163.9 L272.3 163.9 L272.8 163.8 L273.3 163.7 L273.7 163.6 L274.2 163.5 L274.7 163.3 L275.2 163.1 L275.7 162.9 L276.2 162.7 L276.7 162.5 L277.1 162.3 L277.6 162.0 L278.0 161.8 L278.5 161.6 L278.9 161.3 L279.4 161.1 L279.8 160.9 L280.2 160.6 L280.6 160.4 L281.1 160.2 L281.5 159.9 L281.9 159.7 L282.3 159.5 L282.8 159.3 L283.2 159.1 L283.6 158.9 L284.0 158.7 L284.3 158.5 L284.7 158.3 L285.1 158.2 L285.4 158.0 L285.7 157.9 L286.0 157.7 L286.3 157.6 L286.7 157.6 L287.0 157.6 L287.3 157.6 L287.6 157.7 L287.9 157.8 L288.2 158.0 L288.5 158.2 L288.8 158.5 L289.1 158.8 L289.4 159.1 L289.7 159.5 L290.0 159.9 L290.2 160.4 L290.5 160.8 L290.8 161.3 L291.0 161.9 L291.3 162.4 L291.5 162.9 L291.8 163.5 L292.0 164.1 L292.3 164.7 L292.5 165.3 L292.8 165.8 L293.0 166.4 L293.3 167.0 L293.6 167.6 L293.8 168.2 L294.1 168.8 L294.4 169.4 L294.6 170.0 L294.9 170.5 L295.2 171.1 L295.5 171.6 L295.8 172.1 L296.0 172.6 L296.3 173.1 L296.6 173.6 L296.9 174.0 L297.2 174.5 L297.5 174.9 L297.7 175.3 L298.0 175.6 L298.3 175.9 L298.6 176.2 L299.0 176.5 L299.3 176.7 L299.6 176.8 L300.0 177.0 L300.4 177.0 L300.8 177.0 L301.3 177.0 L301.7 176.9 L302.2 176.8 L302.7 176.7 L303.2 176.6 L303.7 176.4 L304.2 176.2 L304.7 176.0 L305.2 175.9 L305.6 175.7 L306.1 175.5 L306.6 175.4 L307.0 175.2 L307.5 175.1 L307.9 174.9 L308.4 174.8 L308.8 174.6 L309.2 174.5 L309.7 174.3 L310.1 174.2 L310.5 174.0 L310.9 173.8 L311.3 173.7 L311.7 173.5 L312.1 173.4 L312.4 173.3 L312.8 173.2 L313.2 173.2 L313.6 173.2 L314.0 173.3 L314.4 173.3 L314.8 173.5 L315.2 173.7 L315.5 173.9 L315.9 174.1 L316.2 174.4 L316.6 174.6 L316.9 174.9 L317.2 175.2 L317.5 175.5 L317.8 175.9 L318.0 176.2 L318.3 176.5 L318.5 176.9 L318.8 177.3 L319.0 177.6 L319.2 178.0 L319.5 178.5 L319.7 178.9 L320.0 179.3 L320.2 179.8 L320.4 180.2 L320.7 180.7 L320.9 181.2 L321.2 181.6 L321.5 182.1 L321.7 182.6 L322.0 183.1 L322.2 183.6 L322.5 184.0 L322.8 184.5 L323.1 184.9 L323.3 185.4 L323.6 185.8 L323.9 186.2 L324.3 186.5 L324.6 186.9 L325.0 187.2 L325.3 187.4 L325.7 187.6 L326.2 187.7 L326.6 187.8 L327.1 187.9 L327.6 187.9 L328.1 187.9 L328.6 187.8 L329.2 187.7 L329.7 187.6 L330.2 187.5 L330.8 187.3 L331.3 187.2 L331.9 187.0 L332.4 186.9 L332.9 186.8 L333.4 186.6 L333.9 186.5 L334.3 186.5 L334.8 186.4 L335.3 186.4 L335.7 186.3 L336.2 186.4 L336.6 186.4 L337.0 186.5 L337.5 186.6 L337.9 186.8 L338.4 187.0 L338.8 187.3 L339.2 187.5 L339.6 187.8 L340.1 188.2 L340.5 188.5 L340.9 188.9 L341.3 189.3 L341.8 189.7 L342.2 190.2 L342.6 190.6 L343.0 191.1 L343.4 191.6 L343.8 192.0 L344.2 192.5 L344.6 193.0 L345.0 193.4 L345.4 193.9 L345.7 194.3 L346.1 194.7 L346.5 195.1 L346.8 195.4 L347.1 195.7 L347.5 196.0 L347.8 196.3 L348.1 196.5 L348.4 196.7 L348.8 196.9 L349.1 197.0 L349.5 197.2 L349.9 197.3 L350.3 197.4 L350.7 197.4 L351.1 197.5 L351.6 197.6 L352.0 197.6 L352.5 197.7 L353.0 197.7 L353.5 197.7 L354.0 197.7 L354.5 197.7 L355.0 197.7 L355.5 197.7 L356.0 197.7 L356.5 197.7 L357.0 197.7 L357.5 197.6 L357.9 197.6 L358.4 197.7 L358.9 197.7 L359.3 197.7 L359.8 197.8 L360.2 197.8 L360.6 197.9 L361.0 198.0 L361.4 198.2 L361.8 198.3 L362.3 198.5 L362.6 198.7 L363.0 198.9 L363.4 199.1 L363.8 199.4 L364.2 199.7 L364.6 200.0 L365.0 200.3 L365.4 200.6 L365.8 201.0 L366.2 201.3 L366.7 201.7 L367.1 202.1 L367.5 202.4 L367.9 202.8 L368.3 203.2 L368.8 203.6 L369.2 204.0 L369.6 204.3 L370.0 204.7 L370.5 205.0 L370.9 205.4 L371.3 205.7 L371.8 206.0 L372.2 206.3 L372.6 206.6 L373.0 206.9 L373.5 207.1 L373.9 207.3 L374.3 207.5 L374.7 207.7 L375.1 207.9 L375.5 208.0 L375.8 208.2 L376.3 208.3 L376.7 208.4 L377.1 208.4 L377.5 208.5 L378.0 208.5 L378.5 208.5 L379.0 208.5 L379.5 208.5 L380.0 208.5 L380.6 208.5 L381.1 208.5 L381.7 208.4 L382.2 208.4 L382.7 208.5 L383.2 208.5 L383.7 208.6 L384.2 208.6 L384.7 208.8 L385.1 208.9 L385.5 209.1 L385.9 209.2 L386.3 209.4 L386.7 209.7 L387.1 209.9 L387.4 210.1 L387.8 210.4 L388.2 210.6 L388.5 210.9 L388.9 211.1 L389.3 211.4 L389.7 211.6 L390.1 211.9 L390.4 212.1 L390.8 212.4 L391.2 212.6 L391.7 212.8 L392.1 213.0 L392.5 213.2 L392.9 213.4 L393.4 213.6 L393.8 213.8 L394.2 213.9 L394.6 214.1 L395.0 214.2 L395.4 214.3 L395.8 214.5 L396.1 214.6 L396.4 214.7 L396.7 214.8 L397.0 214.9 L397.3 214.9 L397.6 215.0 L397.9 215.1 L398.1 215.2 L398.4 215.2 L398.7 215.3 L399.0 215.4 L399.3 215.4 L399.6 215.5 L399.9 215.6 L400.2 215.6 L400.5 215.7 L400.8 215.7 L401.1 215.8 L401.4 215.8 L401.7 215.9 L402.0 215.9 L402.3 216.0 L402.6 216.1 L402.9 216.1 L403.2 216.2 L403.5 216.2 L403.8 216.3 L404.1 216.3 L404.4 216.4 L404.7 216.5 L405.0 216.6 L405.2 216.6 L405.5 216.7 L405.8 216.8 L406.1 216.9 L406.4 217.0 L406.7 217.1 L407.0 217.2 L407.3 217.3 L407.6 217.4 L407.9 217.5 L408.2 217.6 L408.4 217.7 L408.7 217.8 L409.0 217.9 L409.3 218.1 L409.6 218.2 L409.9 218.3 L410.2 218.5 L410.4 218.6 L410.7 218.7 L411.0 218.9 L411.3 219.0 L411.6 219.2 L411.9 219.3 L412.1 219.5 L412.4 219.6 L412.7 219.8 L413.0 219.9 L413.3 220.1 L413.5 220.2 L413.8 220.4 L414.1 220.5 L414.4 220.7 L414.7 220.8 L414.9 221.0 L415.2 221.1 L415.5 221.3 L415.8 221.4 L416.1 221.5 L416.3 221.7 L416.6 221.8 L416.9 222.0 L417.2 222.1 L417.5 222.2 L417.8 222.4 L418.1 222.5 L418.3 222.6 L418.6 222.7 L418.9 222.9 L419.2 223.0 L419.5 223.1 L419.8 223.2 L420.1 223.3 L420.4 223.4 L420.6 223.5 L420.9 223.6 L421.2 223.7 L421.5 223.8 L421.8 223.9 L422.1 223.9 L422.4 224.0 L422.7 224.1 L423.0 224.2 L423.3 224.3 L423.6 224.3 L423.9 224.4 L424.2 224.5 L424.5 224.5 L424.8 224.6 L425.0 224.7 L425.3 224.7 L425.6 224.8 L425.9 224.9 L426.2 224.9 L426.5 225.0 L426.8 225.1 L427.1 225.1 L427.4 225.2 L427.7 225.3 L428.0 225.4 L428.3 225.4 L428.6 225.5 L428.9 225.6 L429.2 225.7 L429.5 225.7 L429.8 225.8 L430.1 225.9 L430.3 226.0 L430.6 226.1 L430.9 226.2 L431.2 226.3 L431.5 226.4 L431.8 226.5 L432.1 226.6 L432.4 226.7 L432.7 226.8 L433.0 226.9 L433.2 227.0 L433.5 227.1 L433.8 227.2 L434.1 227.3 L434.4 227.5 L434.7 227.6 L435.0 227.7 L435.3 227.8 L435.5 228.0 L435.8 228.1 L436.1 228.2 L436.4 228.3 L436.7 228.5 L437.0 228.6 L437.3 228.7 L437.5 228.8 L437.8 229.0 L438.1 229.1 L438.4 229.2 L438.7 229.3 L439.0 229.5 L439.3 229.6 L439.5 229.7 L439.8 229.8 L440.1 230.0 L440.4 230.1 L440.7 230.2 L441.0 230.3 L441.3 230.4 L441.6 230.5 L441.8 230.6 L442.1 230.8 L442.4 230.9 L442.7 231.0 L443.0 231.1 L443.3 231.2 L443.6 231.2 L443.9 231.3 L444.2 231.4 L444.5 231.5 L444.8 231.6 L445.0 231.7 L445.3 231.8 L445.6 231.8 L445.9 231.9 L446.2 232.0 L446.5 232.1 L446.8 232.1 L447.1 232.2 L447.4 232.3 L447.7 232.3 L448.0 232.4 L448.3 232.5 L448.6 232.5 L448.9 232.6 L449.2 232.6 L449.5 232.7 L449.8 232.8 L450.1 232.8 L450.4 232.9 L450.7 232.9 L451.0 233.0 L451.2 233.1 L451.5 233.1 L451.8 233.2 L452.1 233.2 L452.4 233.3 L452.7 233.4 L453.0 233.4 L453.3 233.5 L453.6 233.6 L453.9 233.7 L454.2 233.7 L454.5 233.8 L454.8 233.9 L455.1 234.0 L455.4 234.0 L455.7 234.1 L456.0 234.2 L456.2 234.3 L456.5 234.4 L456.8 234.5 L457.1 234.6 L457.4 234.7 L457.7 234.7 L458.0 234.8 L458.3 234.9 L458.6 235.0 L458.9 235.1 L459.2 235.2 L459.4 235.3 L459.7 235.4 L460.0 235.6 L460.3 235.7 L460.6 235.8 L460.9 235.9 L461.2 236.0 L461.5 236.1 L461.8 236.2 L462.1 236.3 L462.3 236.4 L462.6 236.5 L462.9 236.6 L463.2 236.7 L463.5 236.8 L463.8 236.9 L464.1 237.0 L464.4 237.1 L464.7 237.2 L465.0 237.3 L465.2 237.4 L465.5 237.5 L465.8 237.6 L466.1 237.7 L466.4 237.8 L466.7 237.9 L467.0 237.9 L467.3 238.0 L467.6 238.1 L467.9 238.2 L468.2 238.3 L468.5 238.4 L468.8 238.4 L469.1 238.5 L469.3 238.6 L469.6 238.7 L469.9 238.7 L470.2 238.8 L470.5 238.9 L470.8 238.9 L471.1 239.0 L471.4 239.1 L471.7 239.1 L472.0 239.2" stroke="#000"/>
<path d="M88.5 301.8 L88.9 301.8 L89.3 301.8 L89.7 301.8 L90.1 301.7 L90.4 301.7 L90.8 301.7 L91.1 301.6 L91.4 301.5 L91.8 301.4 L92.1 301.4 L92.4 301.3 L92.7 301.1 L93.0 301.0 L93.2 300.9 L93.5 300.7 L93.8 300.6 L94.0 300.4 L94.3 300.2 L94.5 300.0 L94.8 299.8 L95.0 299.6 L95.3 299.4 L95.5 299.1 L95.7 298.9 L95.9 298.6 L96.1 298.3 L96.4 298.0 L96.6 297.7 L96.8 297.4 L97.0 297.0 L97.2 296.7 L97.4 296.3 L97.6 295.9 L97.8 295.5 L98.0 295.2 L98.2 294.7 L98.3 294.3 L98.5 293.9 L98.7 293.5 L98.9 293.0 L99.0 292.5 L99.2 292.1 L99.3 291.6 L99.5 291.1 L99.6 290.6 L99.8 290.1 L99.9 289.6 L100.0 289.1 L100.2 288.6 L100.3 288.1 L100.4 287.6 L100.5 287.1 L100.6 286.6 L100.7 286.1 L100.9 285.5 L101.0 285.0 L101.1 284.5 L101.2 284.0 L101.3 283.5 L101.4 283.0 L101.5 282.5 L101.6 282.1 L101.7 281.6 L101.8 281.1 L101.9 280.7 L102.0 280.2 L102.1 279.7 L102.2 279.3 L102.3 278.8 L102.4 278.4 L102.5 277.9 L102.6 277.4 L102.7 277.0 L102.8 276.5 L102.9 276.1 L103.0 275.6 L103.1 275.1 L103.2 274.6 L103.3 274.1 L103.4 273.6 L103.5 273.1 L103.6 272.6 L103.7 272.1 L103.8 271.5 L103.9 271.0 L104.0 270.5 L104.1 269.9 L104.2 269.4 L104.3 268.9 L104.4 268.3 L104.5 267.8 L104.6 267.3 L104.6 266.7 L104.7 266.2 L104.8 265.7 L104.9 265.2 L105.0 264.8 L105.0 264.3 L105.1 263.8 L105.2 263.4 L105.2 262.9 L105.3 262.5 L105.3 262.1 L105.4 261.7 L105.4 261.3 L105.5 260.9 L105.5 260.5 L105.5 260.1 L105.6 259.7 L105.6 259.3 L105.7 258.9 L105.7 258.5 L105.7 258.1 L105.8 257.7 L105.8 257.3 L105.9 256.9 L105.9 256.4 L106.0 256.0 L106.0 255.5 L106.1 255.1 L106.1 254.6 L106.2 254.1 L106.2 253.6 L106.3 253.2 L106.4 252.7 L106.5 252.2 L106.5 251.7 L106.6 251.2 L106.7 250.7 L106.8 250.3 L106.9 249.8 L107.0 249.3 L107.1 248.9 L107.2 248.4 L107.3 247.9 L107.4 247.5 L107.5 247.1 L107.6 246.6 L107.7 246.2 L107.8 245.8 L107.9 245.3 L108.0 244.9 L108.2 244.5 L108.3 244.1 L108.4 243.7 L108.5 243.2 L108.6 242.8 L108.8 242.4 L108.9 242.0 L109.0 241.6 L109.1 241.2 L109.2 240.8 L109.3 240.4 L109.4 240.0 L109.5 239.5 L109.6 239.1 L109.7 238.7 L109.8 238.3 L109.9 237.9 L110.1 237.4 L110.2 237.0 L110.3 236.5 L110.4 236.1 L110.5 235.6 L110.6 235.2 L110.7 234.7 L110.8 234.2 L110.9 233.7 L111.0 233.2 L111.1 232.7 L111.2 232.2 L111.3 231.7 L111.4 231.2 L111.6 230.7 L111.7 230.2 L111.8 229.7 L111.9 229.2 L112.0 228.7 L112.1 228.3 L112.2 227.8 L112.2 227.4 L112.3 227.0 L112.4 226.6 L112.5 226.3 L112.6 225.9 L112.6 225.6 L112.7 225.3 L112.7 225.0 L112.8 224.7 L112.9 224.4 L112.9 224.1 L113.0 223.8 L113.0 223.5 L113.1 223.2 L113.1 222.8 L113.2 222.4 L113.2 222.0 L113.3 221.5 L113.3 221.0 L113.4 220.4 L113.4 219.8 L113.5 219.2 L113.5 218.5 L113.6 217.8 L113.6 217.1 L113.7 216.4 L113.8 215.6 L113.8 214.8 L113.9 214.0 L114.0 213.2 L114.0 212.4 L114.1 211.6 L114.1 210.7 L114.2 209.9 L114.3 209.0 L114.3 208.1 L114.4 207.3 L114.5 206.4 L114.5 205.6 L114.6 204.7 L114.7 203.9 L114.7 203.0 L114.8 202.2 L114.9 201.4 L114.9 200.6 L115.0 199.9 L115.1 199.1 L115.1 198.4 L115.2 197.7 L115.3 197.0 L115.3 196.3 L115.4 195.6 L115.5 195.0 L115.5 194.4 L115.6 193.7 L115.7 193.1 L115.7 192.5 L115.8 191.9 L115.9 191.3 L115.9 190.7 L116.0 190.1 L116.1 189.6 L116.1 189.0 L116.2 188.4 L116.3 187.8 L116.3 187.2 L116.4 186.6 L116.5 186.0 L116.5 185.4 L116.6 184.8 L116.7 184.2 L116.8 183.6 L116.8 183.0 L116.9 182.3 L117.0 181.7 L117.1 181.1 L117.1 180.4 L117.2 179.8 L117.3 179.1 L117.3 178.5 L117.4 177.8 L117.5 177.2 L117.6 176.5 L117.6 175.9 L117.7 175.3 L117.8 174.6 L117.8 174.0 L117.9 173.4 L117.9 172.8 L118.0 172.1 L118.1 171.5 L118.1 171.0 L118.2 170.4 L118.2 169.8 L118.3 169.2 L118.3 168.7 L118.4 168.1 L118.4 167.6 L118.4 167.1 L118.5 166.6 L118.5 166.1 L118.5 165.5 L118.6 165.0 L118.6 164.5 L118.6 164.0 L118.6 163.6 L118.7 163.1 L118.7 162.6 L118.7 162.1 L118.7 161.6 L118.8 161.1 L118.8 160.6 L118.8 160.1 L118.8 159.6 L118.8 159.0 L118.9 158.5 L118.9 158.0 L118.9 157.5 L118.9 156.9 L118.9 156.4 L119.0 155.9 L119.0 155.4 L119.0 154.8 L119.0 154.3 L119.0 153.8 L119.1 153.3 L119.1 152.8 L119.1 152.3 L119.1 151.8 L119.1 151.3 L119.2 150.8 L119.2 150.3 L119.2 149.8 L119.2 149.3 L119.3 148.9 L119.3 148.4 L119.3 148.0 L119.3 147.6 L119.4 147.1 L119.4 146.7 L119.4 146.3 L119.5 145.9 L119.5 145.5 L119.5 145.1 L119.6 144.7 L119.6 144.4 L119.6 144.0 L119.7 143.6 L119.7 143.3 L119.8 142.9 L119.8 142.6 L119.9 142.2 L119.9 141.9 L119.9 141.5 L120.0 141.2 L120.0 140.9 L120.1 140.6 L120.1 140.2 L120.2 139.9 L120.2 139.6 L120.3 139.3 L120.6 139.7 L120.8 140.2 L121.1 140.6 L121.3 141.0 L121.6 141.4 L121.8 141.9 L122.1 142.3 L122.4 142.7 L122.6 143.2 L122.9 143.6 L123.1 144.0 L123.4 144.4 L123.6 144.9 L123.9 145.3 L124.0 145.1 L124.0 144.8 L124.1 144.5 L124.1 144.2 L124.2 143.9 L124.2 143.6 L124.3 143.2 L124.3 142.9 L124.3 142.5 L124.4 142.1 L124.4 141.7 L124.4 141.2 L124.5 140.8 L124.5 140.3 L124.5 139.9 L124.5 139.4 L124.5 138.9 L124.6 138.4 L124.6 137.9 L124.6 137.4 L124.6 136.9 L124.6 136.3 L124.6 135.8 L124.6 135.3 L124.6 134.7 L124.6 134.2 L124.6 133.6 L124.6 133.0 L124.6 132.5 L124.7 131.9 L124.7 131.3 L124.7 130.8 L124.7 130.2 L124.7 129.6 L124.7 129.1 L124.7 128.5 L124.7 127.9 L124.7 127.4 L124.7 126.8 L124.7 126.2 L124.7 125.7 L124.8 125.1 L124.8 124.6 L124.8 124.0 L124.8 123.5 L124.8 122.9 L124.8 122.4 L124.9 121.8 L124.9 121.3 L124.9 120.7 L124.9 120.1 L125.0 119.6 L125.0 119.0 L125.0 118.4 L125.0 117.9 L125.1 117.3 L125.1 116.7 L125.1 116.1 L125.2 115.5 L125.2 114.9 L125.2 114.3 L125.3 113.7 L125.3 113.1 L125.4 112.5 L125.4 111.9 L125.4 111.2 L125.5 110.6 L125.5 110.0 L125.6 109.4 L125.6 108.7 L125.6 108.1 L125.7 107.5 L125.7 106.9 L125.8 106.2 L125.8 105.6 L125.8 105.0 L125.9 104.4 L125.9 103.8 L125.9 103.2 L126.0 102.6 L126.0 102.0 L126.0 101.5 L126.1 100.9 L126.1 100.4 L126.1 99.8 L126.1 99.3 L126.1 98.8 L126.2 98.3 L126.2 97.8 L126.2 97.3 L126.2 96.8 L126.2 96.3 L126.2 95.9 L126.2 95.4 L126.2 95.0 L126.3 94.6 L126.3 94.2 L126.3 93.8 L126.3 93.4 L126.3 93.0 L126.3 92.6 L126.3 92.3 L126.3 91.9 L126.3 91.6 L126.3 91.2 L126.3 90.9 L126.3 90.6 L126.4 90.3 L126.4 89.9 L126.4 89.7 L126.4 89.4 L126.4 89.1 L126.4 88.8 L126.5 88.6 L126.5 88.3 L127.1 88.0 L127.6 87.8 L128.1 87.6 L128.6 87.6 L129.0 87.6 L129.4 87.7 L129.7 87.9 L130.0 88.2 L130.2 88.6 L130.4 89.0 L130.5 89.5 L130.6 90.1 L130.7 90.8 L130.8 90.1 L131.0 89.5 L131.1 88.9 L131.2 88.3 L131.3 87.7 L131.3 87.2 L131.4 86.7 L131.5 86.1 L131.6 85.6 L131.6 85.1 L131.7 84.6 L131.8 84.0 L131.9 83.5 L132.0 82.9 L132.1 82.3 L132.2 81.6 L132.4 80.9 L132.6 80.2 L132.7 79.4 L132.9 78.6 L133.2 77.8 L133.4 77.0 L133.6 76.3 L133.9 75.5 L134.1 74.8 L134.4 74.1 L134.6 73.5 L134.9 73.0 L135.2 72.6 L135.5 72.2 L135.7 71.9 L136.1 71.7 L136.4 71.5 L136.7 71.5 L137.1 71.5 L137.5 71.6 L137.9 71.8 L138.2 72.0 L138.6 72.3 L138.9 72.6 L139.1 72.9 L139.4 73.3 L139.6 73.7 L139.8 74.1 L140.0 74.6 L140.2 75.2 L140.4 75.8 L140.6 76.4 L140.8 77.1 L141.0 77.8 L141.1 78.5 L141.3 79.3 L141.4 80.1 L141.6 80.9 L141.8 81.7 L141.9 82.6 L142.1 83.5 L142.2 84.3 L142.4 85.2 L142.5 86.1 L142.6 87.0 L142.8 87.9 L142.9 88.8 L143.1 89.7 L143.2 90.6 L143.4 91.4 L143.5 92.2 L143.7 93.1 L143.8 93.8 L144.0 94.6 L144.1 95.4 L144.3 96.1 L144.4 96.8 L144.6 97.5 L144.7 98.2 L144.9 98.8 L145.0 99.5 L145.1 100.2 L145.3 100.8 L145.4 101.5 L145.5 102.2 L145.6 102.8 L145.8 103.5 L145.9 104.2 L146.0 104.9 L146.1 105.5 L146.3 106.2 L146.4 106.9 L146.5 107.5 L146.7 108.2 L146.9 108.7 L147.1 109.2 L147.3 109.6 L147.5 109.8 L147.7 109.9 L148.0 109.8 L148.3 109.5 L148.6 109.0 L149.0 108.5 L149.3 107.8 L149.7 107.2 L150.1 106.5 L150.5 105.8 L150.9 105.2 L151.3 104.6 L151.7 104.1 L152.1 103.6 L152.5 103.2 L153.0 102.8 L153.4 102.4 L153.8 102.0 L154.2 101.6 L154.6 101.2 L155.0 100.8 L155.5 100.4 L155.9 99.9 L156.3 99.5 L156.7 99.0 L157.1 98.5 L157.6 98.0 L158.0 97.5 L158.5 96.9 L158.9 96.4 L159.4 95.8 L159.9 95.4 L160.3 95.0 L160.8 94.6 L161.2 94.4 L161.6 94.4 L162.0 94.5 L162.4 94.8 L162.7 95.1 L163.1 95.6 L163.4 96.2 L163.7 96.8 L164.0 97.4 L164.3 98.1 L164.7 98.7 L165.0 99.3 L165.3 99.8 L165.7 100.3 L166.0 100.8 L166.4 101.2 L166.8 101.5 L167.2 101.8 L167.7 102.1 L168.2 102.3 L168.7 102.4 L169.2 102.6 L169.7 102.7 L170.2 102.9 L170.7 103.1 L171.1 103.3 L171.5 103.6 L171.9 104.0 L172.3 104.4 L172.6 104.8 L172.9 105.3 L173.1 105.9 L173.4 106.4 L173.6 107.0 L173.9 107.6 L174.1 108.2 L174.3 108.9 L174.5 109.5 L174.7 110.2 L174.9 110.8 L175.0 111.5 L175.2 112.1 L175.4 112.8 L175.5 113.4 L175.7 114.0 L175.9 114.6 L176.0 115.2 L176.2 115.8 L176.4 116.4 L176.7 116.9 L177.0 117.4 L177.3 117.8 L177.7 118.3 L178.1 118.6 L178.5 119.0 L179.0 119.2 L179.4 119.4 L179.9 119.5 L180.3 119.5 L180.8 119.4 L181.2 119.2 L181.6 118.9 L182.0 118.5 L182.4 118.1 L182.8 117.6 L183.2 117.1 L183.5 116.6 L183.9 116.1 L184.2 115.5 L184.5 114.9 L184.8 114.3 L185.1 113.7 L185.5 113.1 L185.8 112.5 L186.1 111.9 L186.4 111.3 L186.7 110.8 L187.0 110.2 L187.4 109.7 L187.7 109.2 L188.0 108.8 L188.4 108.5 L188.7 108.2 L189.1 108.1 L189.4 108.0 L189.8 108.0 L190.1 108.1 L190.5 108.3 L190.8 108.5 L191.1 108.8 L191.5 109.2 L191.8 109.7 L192.1 110.2 L192.4 110.7 L192.7 111.3 L193.0 112.0 L193.3 112.6 L193.5 113.3 L193.8 114.0 L194.1 114.8 L194.3 115.5 L194.6 116.3 L194.8 117.0 L195.1 117.8 L195.4 118.5 L195.7 119.3 L196.0 120.0 L196.3 120.7 L196.7 121.4 L197.0 122.0 L197.4 122.7 L197.8 123.3 L198.2 123.8 L198.6 124.4 L199.0 124.9 L199.5 125.5 L200.0 126.0 L200.4 126.4 L200.9 126.8 L201.4 127.2 L201.9 127.5 L202.4 127.8 L202.9 127.9 L203.4 128.0 L203.9 128.0 L204.3 127.8 L204.7 127.6 L205.2 127.3 L205.6 126.9 L206.0 126.4 L206.3 125.9 L206.7 125.4 L207.1 124.9 L207.5 124.3 L207.9 123.8 L208.2 123.3 L208.6 122.9 L209.0 122.5 L209.4 122.2 L209.8 122.0 L210.2 122.0 L210.6 122.1 L211.1 122.2 L211.5 122.5 L211.9 122.9 L212.4 123.3 L212.8 123.7 L213.2 124.2 L213.5 124.7 L213.9 125.2 L214.3 125.8 L214.6 126.3 L214.9 126.9 L215.2 127.5 L215.5 128.0 L215.8 128.6 L216.1 129.2 L216.3 129.8 L216.6 130.4 L216.8 130.9 L217.1 131.5 L217.3 132.0 L217.5 132.5 L217.8 133.0 L218.0 133.5 L218.3 134.0 L218.5 134.4 L218.8 134.8 L219.2 135.2 L219.5 135.5 L219.9 135.8 L220.4 136.0 L220.8 136.2 L221.3 136.4 L221.9 136.4 L222.4 136.5 L223.0 136.4 L223.6 136.3 L224.1 136.1 L224.6 135.8 L225.1 135.5 L225.6 135.1 L226.0 134.7 L226.5 134.3 L227.0 133.9 L227.4 133.5 L227.9 133.2 L228.4 133.0 L228.9 132.8 L229.5 132.8 L230.0 132.8 L230.6 133.0 L231.1 133.2 L231.6 133.5 L232.1 133.8 L232.6 134.3 L232.9 134.8 L233.3 135.3 L233.6 135.9 L233.9 136.6 L234.2 137.2 L234.5 137.9 L234.7 138.6 L235.0 139.3 L235.3 139.9 L235.6 140.6 L235.9 141.2 L236.2 141.8 L236.5 142.3 L236.9 142.9 L237.2 143.4 L237.6 143.9 L237.9 144.4 L238.3 144.9 L238.7 145.3 L239.1 145.8 L239.5 146.2 L239.9 146.5 L240.3 146.7 L240.8 146.9 L241.2 147.0 L241.7 147.0 L242.2 146.9 L242.7 146.6 L243.3 146.4 L243.8 146.1 L244.3 145.7 L244.8 145.4 L245.3 145.1 L245.7 144.8 L246.1 144.5 L246.5 144.3 L246.9 144.2 L247.3 144.1 L247.8 144.0 L248.2 144.0 L248.7 144.1 L249.2 144.2 L249.7 144.4 L250.3 144.6 L250.8 144.9 L251.3 145.3 L251.8 145.8 L252.2 146.3 L252.7 146.8 L253.1 147.5 L253.4 148.1 L253.8 148.8 L254.1 149.5 L254.5 150.2 L254.8 150.9 L255.2 151.6 L255.6 152.3 L255.9 152.9 L256.4 153.5 L256.8 154.0 L257.3 154.5 L257.8 154.9 L258.2 155.2 L258.8 155.5 L259.3 155.7 L259.8 155.8 L260.3 155.8 L260.8 155.7 L261.3 155.6 L261.8 155.4 L262.4 155.2 L262.9 155.0 L263.4 154.8 L264.0 154.6 L264.5 154.4 L265.0 154.3 L265.6 154.2 L266.1 154.2 L266.7 154.2 L267.2 154.3 L267.7 154.5 L268.2 154.7 L268.7 155.0 L269.1 155.4 L269.6 155.8 L270.0 156.3 L270.4 156.8 L270.9 157.4 L271.3 158.0 L271.7 158.6 L272.1 159.2 L272.5 159.7 L272.9 160.3 L273.4 160.9 L273.8 161.4 L274.3 161.8 L274.7 162.3 L275.2 162.6 L275.7 162.9 L276.2 163.0 L276.7 163.1 L277.2 163.2 L277.8 163.2 L278.3 163.1 L278.8 163.1 L279.4 163.0 L279.9 163.0 L280.4 163.0 L280.9 163.1 L281.4 163.2 L282.0 163.4 L282.5 163.6 L283.0 163.7 L283.6 163.9 L284.1 164.0 L284.7 164.2 L285.3 164.3 L286.0 164.4 L286.6 164.5 L287.2 164.6 L287.8 164.8 L288.4 165.0 L288.9 165.3 L289.4 165.7 L289.9 166.1 L290.3 166.6 L290.8 167.1 L291.2 167.6 L291.5 168.1 L291.9 168.7 L292.3 169.2 L292.7 169.7 L293.2 170.2 L293.6 170.6 L294.1 170.9 L294.6 171.2 L295.1 171.5 L295.6 171.7 L296.2 171.9 L296.7 172.0 L297.2 172.0 L297.8 172.0 L298.3 172.0 L298.9 172.0 L299.4 172.0 L299.9 172.0 L300.4 172.1 L301.0 172.3 L301.5 172.5 L302.0 172.9 L302.5 173.3 L302.9 173.7 L303.4 174.2 L303.9 174.7 L304.3 175.2 L304.7 175.6 L305.1 175.9 L305.5 176.2 L305.8 176.5 L306.1 176.7 L306.5 176.9 L306.8 177.1 L307.1 177.3 L307.5 177.5 L307.8 177.7 L308.2 177.9 L308.5 178.2 L308.9 178.4 L309.2 178.6 L309.6 178.8 L309.9 179.0 L310.3 179.2 L310.6 179.4 L311.0 179.6 L311.3 179.8 L311.7 180.0 L312.0 180.2 L312.4 180.3 L312.8 180.5 L313.1 180.6 L313.5 180.8 L313.9 180.9 L314.2 181.1 L314.6 181.2 L314.9 181.3 L315.3 181.5 L315.7 181.6 L316.1 181.7 L316.4 181.8 L316.8 181.9 L317.2 182.0 L317.5 182.1 L317.9 182.2 L318.3 182.3 L318.6 182.4 L319.0 182.5 L319.4 182.6 L319.8 182.7 L320.1 182.8 L320.5 182.8 L320.9 182.9 L321.2 183.0 L321.6 183.1 L322.0 183.2 L322.4 183.3 L322.7 183.4 L323.1 183.5 L323.5 183.6 L323.8 183.7 L324.2 183.9 L324.6 184.0 L324.9 184.1 L325.3 184.2 L325.7 184.4 L326.0 184.5 L326.4 184.6 L326.8 184.8 L327.1 184.9 L327.5 185.1 L327.8 185.3 L328.2 185.4 L328.6 185.6 L328.9 185.8 L329.3 185.9 L329.6 186.1 L330.0 186.3 L330.3 186.5 L330.7 186.7 L331.0 186.9 L331.4 187.1 L331.8 187.3 L332.1 187.5 L332.5 187.7 L332.8 187.9 L333.2 188.1 L333.5 188.3 L333.9 188.5 L334.2 188.7 L334.6 188.8 L334.9 189.0 L335.3 189.2 L335.6 189.4 L336.0 189.6 L336.3 189.8 L336.7 190.0 L337.0 190.2 L337.4 190.4 L337.8 190.6 L338.1 190.7 L338.5 190.9 L338.8 191.1 L339.2 191.3 L339.5 191.4 L339.9 191.6 L340.3 191.7 L340.6 191.9 L341.0 192.0 L341.3 192.2 L341.7 192.3 L342.1 192.5 L342.4 192.6 L342.8 192.7 L343.2 192.9 L343.5 193.0 L343.9 193.1 L344.3 193.2 L344.6 193.4 L345.0 193.5 L345.4 193.6 L345.7 193.7 L346.1 193.8 L346.5 193.9 L346.9 194.0 L347.2 194.1 L347.6 194.2 L348.0 194.3 L348.3 194.4 L348.7 194.6 L349.1 194.7 L349.4 194.8 L349.8 194.9 L350.2 195.0 L350.5 195.1 L350.9 195.2 L351.3 195.4 L351.6 195.5 L352.0 195.6 L352.4 195.8 L352.7 195.9 L353.1 196.0 L353.5 196.2 L353.8 196.3 L354.2 196.5 L354.6 196.6 L354.9 196.8 L355.3 196.9 L355.6 197.1 L356.0 197.3 L356.4 197.4 L356.7 197.6 L357.1 197.8 L357.4 197.9 L357.8 198.1 L358.1 198.3 L358.5 198.5 L358.9 198.7 L359.2 198.9 L359.6 199.0 L359.9 199.2 L360.3 199.4 L360.6 199.6 L361.0 199.8 L361.3 200.0 L361.7 200.2 L362.0 200.4 L362.4 200.6 L362.7 200.8 L363.1 201.0 L363.4 201.2 L363.8 201.3 L364.2 201.5 L364.5 201.7 L364.9 201.9 L365.2 202.1 L365.6 202.3 L365.9 202.4 L366.3 202.6 L366.7 202.8 L367.0 203.0 L367.4 203.1 L367.7 203.3 L368.1 203.5 L368.4 203.6 L368.8 203.8 L369.2 203.9 L369.5 204.1 L369.9 204.2 L370.3 204.4 L370.6 204.5 L371.0 204.7 L371.3 204.8 L371.7 204.9 L372.1 205.1 L372.4 205.2 L372.8 205.3 L373.2 205.4 L373.5 205.6 L373.9 205.7 L374.3 205.8 L374.6 205.9 L375.0 206.1 L375.4 206.2 L375.7 206.3 L376.1 206.4 L376.5 206.5 L376.9 206.6 L377.2 206.8 L377.6 206.9 L378.0 207.0 L378.3 207.1 L378.7 207.2 L379.1 207.4 L379.4 207.5 L379.8 207.6 L380.2 207.7 L380.5 207.9 L380.9 208.0 L381.3 208.1 L381.6 208.3 L382.0 208.4 L382.3 208.5 L382.7 208.7 L383.1 208.8 L383.4 209.0 L383.8 209.1 L384.2 209.3 L384.5 209.4 L384.9 209.6 L385.3 209.7 L385.6 209.9 L386.0 210.0 L386.3 210.2 L386.7 210.3 L387.1 210.5 L387.4 210.7 L387.8 210.8 L388.1 211.0 L388.5 211.1 L388.9 211.3 L389.2 211.5 L389.6 211.6 L389.9 211.8 L390.3 212.0 L390.7 212.1 L391.0 212.3 L391.4 212.4 L391.7 212.6 L392.1 212.7 L392.5 212.9 L392.8 213.1 L393.2 213.2 L393.5 213.4 L393.9 213.5 L394.3 213.7 L394.6 213.8 L395.0 214.0 L395.4 214.1 L395.7 214.2 L396.1 214.4 L396.5 214.5 L396.8 214.6 L397.2 214.8 L397.6 214.9 L397.9 215.0 L398.3 215.2 L398.7 215.3 L399.0 215.4 L399.4 215.5 L399.8 215.7 L400.1 215.8 L400.5 215.9 L400.9 216.0 L401.2 216.1 L401.6 216.2 L402.0 216.4 L402.3 216.5 L402.7 216.6 L403.1 216.7 L403.4 216.8 L403.8 216.9 L404.2 217.0 L404.5 217.2 L404.9 217.3 L405.3 217.4 L405.6 217.5 L406.0 217.6 L406.4 217.7 L406.7 217.9 L407.1 218.0 L407.5 218.1 L407.8 218.2 L408.2 218.4 L408.6 218.5 L408.9 218.6 L409.3 218.7 L409.7 218.9 L410.0 219.0 L410.4 219.1 L410.8 219.3 L411.1 219.4 L411.5 219.6 L411.9 219.7 L412.2 219.8 L412.6 220.0 L413.0 220.1 L413.3 220.3 L413.7 220.4 L414.0 220.6 L414.4 220.7 L414.8 220.9 L415.1 221.0 L415.5 221.2 L415.9 221.3 L416.2 221.5 L416.6 221.6 L416.9 221.8 L417.3 222.0 L417.7 222.1 L418.0 222.3 L418.4 222.4 L418.7 222.6 L419.1 222.7 L419.5 222.9 L419.8 223.0 L420.2 223.2 L420.6 223.3 L420.9 223.5 L421.3 223.6 L421.6 223.8 L422.0 223.9 L422.4 224.1 L422.7 224.2 L423.1 224.3 L423.5 224.5 L423.8 224.6 L424.2 224.8 L424.6 224.9 L424.9 225.0 L425.3 225.2 L425.7 225.3 L426.0 225.4 L426.4 225.5 L426.8 225.7 L427.1 225.8 L427.5 225.9 L427.9 226.0 L428.2 226.1 L428.6 226.3 L429.0 226.4 L429.3 226.5 L429.7 226.6 L430.1 226.7 L430.4 226.8 L430.8 227.0 L431.2 227.1 L431.5 227.2 L431.9 227.3 L432.3 227.4 L432.6 227.5 L433.0 227.6 L433.4 227.7 L433.7 227.8 L434.1 228.0 L434.5 228.1 L434.9 228.2 L435.2 228.3 L435.6 228.4 L436.0 228.5 L436.3 228.6 L436.7 228.7 L437.1 228.9 L437.4 229.0 L437.8 229.1 L438.2 229.2 L438.5 229.3 L438.9 229.5 L439.3 229.6 L439.6 229.7 L440.0 229.8 L440.4 229.9 L440.7 230.1 L441.1 230.2 L441.5 230.3 L441.8 230.4 L442.2 230.6 L442.6 230.7 L442.9 230.8 L443.3 231.0 L443.7 231.1 L444.0 231.2 L444.4 231.3 L444.8 231.5 L445.1 231.6 L445.5 231.7 L445.9 231.8 L446.2 232.0 L446.6 232.1 L447.0 232.2 L447.3 232.4 L447.7 232.5 L448.1 232.6 L448.4 232.7 L448.8 232.8 L449.2 233.0 L449.5 233.1 L449.9 233.2 L450.3 233.3 L450.6 233.4 L451.0 233.5 L451.4 233.7 L451.7 233.8 L452.1 233.9 L452.5 234.0 L452.9 234.1 L453.2 234.2 L453.6 234.3 L454.0 234.4 L454.3 234.5 L454.7 234.6 L455.1 234.7 L455.4 234.8 L455.8 234.9 L456.2 235.0 L456.6 235.1 L456.9 235.2 L457.3 235.3 L457.7 235.4 L458.0 235.5 L458.4 235.6 L458.8 235.7 L459.2 235.8 L459.5 235.9 L459.9 236.0 L460.3 236.1 L460.6 236.2 L461.0 236.3 L461.4 236.3 L461.8 236.4 L462.1 236.5 L462.5 236.6 L462.9 236.7 L463.2 236.8 L463.6 236.9 L464.0 237.0 L464.3 237.1 L464.7 237.2 L465.1 237.3 L465.5 237.4 L465.8 237.5 L466.2 237.6 L466.6 237.7 L466.9 237.8 L467.3 237.9 L467.7 238.0 L468.0 238.1 L468.4 238.2 L468.8 238.3 L469.2 238.5 L469.5 238.6 L469.9 238.7 L470.3 238.8 L470.6 238.9 L471.0 239.0" stroke="#ff0000" stroke-dasharray="7.76 1.94"/>
<path d="M87.0 301.8 L87.1 301.6 L87.2 301.4 L87.4 301.2 L87.5 300.9 L87.6 300.6 L87.8 300.4 L87.9 300.1 L88.0 299.7 L88.1 299.4 L88.3 299.1 L88.4 298.7 L88.5 298.3 L88.7 297.9 L88.8 297.5 L88.9 297.1 L89.0 296.7 L89.1 296.3 L89.3 295.8 L89.4 295.4 L89.5 294.9 L89.6 294.4 L89.7 293.9 L89.8 293.4 L89.9 292.9 L89.9 292.4 L90.0 291.9 L90.1 291.3 L90.2 290.8 L90.2 290.2 L90.3 289.7 L90.3 289.1 L90.4 288.6 L90.4 288.0 L90.5 287.4 L90.5 286.8 L90.6 286.2 L90.6 285.6 L90.7 285.0 L90.7 284.4 L90.7 283.8 L90.8 283.1 L90.8 282.5 L90.9 281.9 L90.9 281.2 L91.0 280.6 L91.0 279.9 L91.1 279.3 L91.1 278.6 L91.2 277.9 L91.2 277.3 L91.3 276.6 L91.3 275.9 L91.4 275.3 L91.5 274.6 L91.5 273.9 L91.6 273.2 L91.6 272.5 L91.7 271.9 L91.8 271.2 L91.8 270.5 L91.9 269.8 L91.9 269.2 L92.0 268.5 L92.1 267.8 L92.1 267.2 L92.2 266.5 L92.2 265.9 L92.3 265.2 L92.3 264.6 L92.4 264.0 L92.4 263.3 L92.5 262.7 L92.5 262.1 L92.5 261.5 L92.6 260.9 L92.6 260.2 L92.7 259.6 L92.7 259.0 L92.7 258.4 L92.8 257.8 L92.8 257.2 L92.8 256.6 L92.8 256.0 L92.9 255.3 L92.9 254.7 L92.9 254.1 L92.9 253.5 L93.0 252.8 L93.0 252.2 L93.0 251.5 L93.0 250.9 L93.1 250.2 L93.1 249.6 L93.1 248.9 L93.1 248.2 L93.2 247.5 L93.2 246.9 L93.2 246.2 L93.2 245.5 L93.3 244.8 L93.3 244.1 L93.3 243.3 L93.3 242.6 L93.4 241.9 L93.4 241.2 L93.4 240.4 L93.5 239.7 L93.5 238.9 L93.5 238.2 L93.6 237.4 L93.6 236.7 L93.6 235.9 L93.7 235.2 L93.7 234.4 L93.8 233.6 L93.8 232.8 L93.9 232.1 L93.9 231.3 L94.0 230.5 L94.0 229.7 L94.1 228.9 L94.1 228.1 L94.2 227.3 L94.2 226.6 L94.3 225.8 L94.4 225.0 L94.4 224.2 L94.5 223.4 L94.5 222.6 L94.6 221.9 L94.6 221.1 L94.7 220.3 L94.8 219.6 L94.8 218.8 L94.9 218.1 L94.9 217.3 L95.0 216.6 L95.0 215.9 L95.1 215.1 L95.1 214.4 L95.2 213.7 L95.2 213.0 L95.3 212.3 L95.3 211.6 L95.4 210.9 L95.4 210.3 L95.5 209.6 L95.5 208.9 L95.6 208.3 L95.6 207.6 L95.7 206.9 L95.7 206.3 L95.8 205.6 L95.8 205.0 L95.8 204.3 L95.9 203.7 L95.9 203.0 L96.0 202.4 L96.0 201.7 L96.0 201.1 L96.1 200.4 L96.1 199.8 L96.1 199.1 L96.2 198.5 L96.2 197.8 L96.3 197.1 L96.3 196.5 L96.3 195.8 L96.4 195.1 L96.4 194.5 L96.4 193.8 L96.5 193.1 L96.5 192.4 L96.5 191.8 L96.6 191.1 L96.6 190.4 L96.6 189.8 L96.7 189.1 L96.7 188.4 L96.7 187.7 L96.8 187.1 L96.8 186.4 L96.9 185.7 L96.9 185.1 L96.9 184.4 L97.0 183.8 L97.0 183.1 L97.1 182.5 L97.1 181.8 L97.1 181.2 L97.2 180.5 L97.2 179.9 L97.3 179.2 L97.3 178.5 L97.4 177.9 L97.4 177.2 L97.5 176.6 L97.6 175.9 L97.6 175.2 L97.7 174.6 L97.8 173.9 L97.8 173.2 L97.9 172.5 L98.0 171.8 L98.1 171.1 L98.1 170.4 L98.2 169.7 L98.3 169.0 L98.4 168.3 L98.5 167.6 L98.6 166.9 L98.7 166.1 L98.8 165.4 L99.0 164.6 L99.1 163.9 L99.2 163.1 L99.3 162.4 L99.4 161.6 L99.5 160.8 L99.7 160.0 L99.8 159.3 L99.9 158.5 L100.0 157.7 L100.2 156.9 L100.3 156.1 L100.4 155.3 L100.5 154.6 L100.6 153.8 L100.8 153.0 L100.9 152.2 L101.0 151.4 L101.1 150.6 L101.2 149.8 L101.3 149.0 L101.5 148.2 L101.6 147.4 L101.7 146.6 L101.8 145.8 L101.9 145.0 L102.0 144.2 L102.1 143.4 L102.2 142.6 L102.3 141.8 L102.4 141.0 L102.5 140.2 L102.6 139.4 L102.7 138.7 L102.8 137.9 L102.9 137.1 L103.0 136.4 L103.1 135.6 L103.2 134.9 L103.3 134.1 L103.4 133.4 L103.5 132.7 L103.7 132.0 L103.8 131.2 L103.9 130.5 L104.0 129.8 L104.2 129.2 L104.3 128.5 L104.4 127.8 L104.6 127.1 L104.7 126.5 L104.8 125.8 L105.0 125.2 L105.1 124.6 L105.3 124.0 L105.5 123.3 L105.6 122.7 L105.8 122.1 L106.0 121.5 L106.1 120.9 L106.3 120.4 L106.5 119.8 L106.7 119.2 L106.9 118.7 L107.1 118.1 L107.3 117.6 L107.5 117.0 L107.7 116.5 L107.9 116.0 L108.1 115.4 L108.4 114.9 L108.6 114.4 L108.8 113.9 L109.1 113.4 L109.3 112.9 L109.6 112.4 L109.8 111.9 L110.1 111.5 L110.4 111.0 L110.6 110.5 L110.9 110.1 L111.2 109.6 L111.5 109.2 L111.8 108.8 L112.1 108.3 L112.4 107.9 L112.7 107.5 L113.0 107.1 L113.4 106.7 L113.7 106.4 L114.1 106.0 L114.4 105.7 L114.8 105.3 L115.1 105.0 L115.5 104.7 L115.8 104.4 L116.2 104.1 L116.6 103.8 L117.0 103.6 L117.4 103.3 L117.8 103.1 L118.2 102.9 L118.6 102.7 L119.0 102.6 L119.4 102.4 L119.8 102.3 L120.3 102.2 L120.7 102.0 L121.1 101.9 L121.5 101.9 L121.9 101.8 L122.4 101.7 L122.8 101.7 L123.2 101.6 L123.6 101.5 L124.0 101.5 L124.4 101.5 L124.8 101.4 L125.2 101.4 L125.6 101.3 L126.0 101.3 L126.4 101.3 L126.8 101.3 L127.3 101.2 L127.7 101.2 L128.1 101.2 L128.5 101.2 L129.0 101.2 L129.4 101.2 L129.9 101.2 L130.4 101.2 L130.9 101.2 L131.4 101.2 L131.9 101.2 L132.5 101.3 L133.0 101.3 L133.5 101.3 L134.1 101.3 L134.6 101.4 L135.2 101.4 L135.8 101.4 L136.3 101.5 L136.9 101.5 L137.5 101.6 L138.0 101.6 L138.6 101.7 L139.2 101.7 L139.7 101.8 L140.3 101.8 L140.8 101.9 L141.3 101.9 L141.9 102.0 L142.4 102.1 L142.9 102.2 L143.5 102.2 L144.0 102.3 L144.5 102.4 L145.0 102.5 L145.6 102.6 L146.1 102.7 L146.6 102.9 L147.2 103.0 L147.7 103.1 L148.3 103.3 L148.8 103.4 L149.4 103.6 L150.0 103.8 L150.6 104.0 L151.1 104.2 L151.7 104.4 L152.4 104.6 L153.0 104.9 L153.6 105.1 L154.2 105.4 L154.8 105.7 L155.5 105.9 L156.1 106.2 L156.8 106.5 L157.4 106.8 L158.1 107.1 L158.7 107.4 L159.4 107.7 L160.1 108.0 L160.7 108.3 L161.4 108.6 L162.0 108.9 L162.7 109.2 L163.4 109.5 L164.0 109.8 L164.7 110.2 L165.3 110.5 L166.0 110.8 L166.6 111.1 L167.3 111.4 L167.9 111.6 L168.6 111.9 L169.2 112.2 L169.9 112.5 L170.5 112.8 L171.1 113.1 L171.8 113.4 L172.4 113.7 L173.0 113.9 L173.7 114.2 L174.3 114.5 L174.9 114.8 L175.6 115.1 L176.2 115.3 L176.8 115.6 L177.5 115.9 L178.1 116.2 L178.7 116.4 L179.4 116.7 L180.0 117.0 L180.6 117.3 L181.3 117.6 L181.9 117.8 L182.6 118.1 L183.2 118.4 L183.8 118.7 L184.5 118.9 L185.1 119.2 L185.8 119.5 L186.4 119.8 L187.1 120.1 L187.7 120.3 L188.3 120.6 L189.0 120.9 L189.6 121.2 L190.3 121.5 L190.9 121.7 L191.5 122.0 L192.2 122.3 L192.8 122.6 L193.5 122.8 L194.1 123.1 L194.7 123.4 L195.4 123.7 L196.0 123.9 L196.6 124.2 L197.2 124.5 L197.9 124.7 L198.5 125.0 L199.1 125.3 L199.7 125.6 L200.4 125.8 L201.0 126.1 L201.6 126.4 L202.3 126.7 L202.9 126.9 L203.5 127.2 L204.2 127.5 L204.8 127.8 L205.5 128.0 L206.1 128.3 L206.8 128.6 L207.4 128.9 L208.1 129.2 L208.7 129.5 L209.4 129.7 L210.1 130.0 L210.8 130.3 L211.4 130.6 L212.1 130.9 L212.8 131.2 L213.5 131.5 L214.2 131.8 L214.9 132.1 L215.7 132.4 L216.4 132.8 L217.1 133.1 L217.8 133.4 L218.6 133.7 L219.3 134.0 L220.0 134.4 L220.8 134.7 L221.5 135.0 L222.3 135.4 L223.0 135.7 L223.8 136.1 L224.6 136.4 L225.3 136.8 L226.1 137.1 L226.9 137.5 L227.6 137.9 L228.4 138.2 L229.2 138.6 L230.0 139.0 L230.8 139.4 L231.5 139.8 L232.3 140.1 L233.1 140.5 L233.9 140.9 L234.7 141.3 L235.5 141.7 L236.2 142.1 L237.0 142.5 L237.8 142.9 L238.5 143.3 L239.3 143.7 L240.1 144.1 L240.8 144.5 L241.6 144.9 L242.3 145.3 L243.0 145.7 L243.7 146.1 L244.4 146.5 L245.1 146.8 L245.8 147.2 L246.5 147.6 L247.1 147.9 L247.8 148.3 L248.4 148.6 L249.0 149.0 L249.6 149.3 L250.2 149.6 L250.8 149.9 L251.4 150.2 L251.9 150.5 L252.4 150.8 L253.0 151.1 L253.5 151.4 L254.0 151.7 L254.5 152.0 L255.0 152.2 L255.5 152.5 L255.9 152.8 L256.4 153.0 L256.9 153.3 L257.4 153.6 L257.9 153.8 L258.4 154.1 L258.9 154.4 L259.4 154.7 L259.9 154.9 L260.4 155.2 L261.0 155.5 L261.5 155.8 L262.0 156.1 L262.6 156.4 L263.1 156.7 L263.7 157.0 L264.2 157.3 L264.8 157.6 L265.3 157.9 L265.9 158.2 L266.4 158.4 L266.9 158.7 L267.4 159.0 L267.9 159.2 L268.4 159.5 L268.8 159.7 L269.3 159.9 L269.7 160.1 L270.1 160.3 L270.5 160.5 L270.9 160.7 L271.2 160.9 L271.6 161.0 L271.9 161.2 L272.2 161.3 L272.5 161.4 L272.8 161.6 L273.1 161.7 L273.4 161.8 L273.7 161.9 L274.1 162.1 L274.4 162.2 L274.7 162.4 L275.0 162.5 L275.3 162.6 L275.7 162.8 L276.0 162.9 L276.3 163.1 L276.7 163.2 L277.0 163.4 L277.3 163.5 L277.7 163.7 L278.0 163.8 L278.4 164.0 L278.7 164.1 L279.0 164.3 L279.3 164.4 L279.7 164.6 L280.0 164.7 L280.3 164.9 L280.7 165.0 L281.0 165.2 L281.3 165.3 L281.6 165.5 L282.0 165.6 L282.3 165.8 L282.6 165.9 L283.0 166.1 L283.3 166.2 L283.6 166.4 L283.9 166.5 L284.3 166.7 L284.6 166.8 L284.9 167.0 L285.3 167.1 L285.6 167.3 L285.9 167.4 L286.3 167.6 L286.6 167.7 L286.9 167.9 L287.2 168.0 L287.6 168.2 L287.9 168.3 L288.2 168.4 L288.6 168.6 L288.9 168.7 L289.2 168.9 L289.5 169.0 L289.9 169.2 L290.2 169.3 L290.5 169.5 L290.9 169.6 L291.2 169.8 L291.5 169.9 L291.8 170.1 L292.2 170.2 L292.5 170.4 L292.8 170.5 L293.2 170.7 L293.5 170.8 L293.8 171.0 L294.2 171.1 L294.5 171.3 L294.8 171.4 L295.1 171.6 L295.5 171.7 L295.8 171.9 L296.1 172.0 L296.5 172.2 L296.8 172.3 L297.1 172.5 L297.4 172.6 L297.8 172.8 L298.1 172.9 L298.4 173.1 L298.8 173.2 L299.1 173.4 L299.4 173.5 L299.7 173.7 L300.1 173.8 L300.4 174.0 L300.7 174.1 L301.1 174.3 L301.4 174.4 L301.7 174.6 L302.0 174.7 L302.4 174.9 L302.7 175.0 L303.0 175.2 L303.4 175.3 L303.7 175.5 L304.0 175.6 L304.3 175.8 L304.7 175.9 L305.0 176.1 L305.3 176.2 L305.7 176.4 L306.0 176.5 L306.3 176.7 L306.7 176.8 L307.0 177.0 L307.3 177.1 L307.6 177.3 L308.0 177.4 L308.3 177.6 L308.6 177.7 L309.0 177.9 L309.3 178.0 L309.6 178.2 L309.9 178.3 L310.3 178.5 L310.6 178.6 L310.9 178.8 L311.3 178.9 L311.6 179.1 L311.9 179.2 L312.3 179.4 L312.6 179.5 L312.9 179.6 L313.2 179.8 L313.6 179.9 L313.9 180.1 L314.2 180.2 L314.6 180.4 L314.9 180.5 L315.2 180.7 L315.6 180.8 L315.9 180.9 L316.2 181.1 L316.5 181.2 L316.9 181.4 L317.2 181.5 L317.5 181.7 L317.9 181.8 L318.2 181.9 L318.5 182.1 L318.9 182.2 L319.2 182.4 L319.5 182.5 L319.8 182.7 L320.2 182.8 L320.5 182.9 L320.8 183.1 L321.2 183.2 L321.5 183.4 L321.8 183.5 L322.2 183.6 L322.5 183.8 L322.8 183.9 L323.2 184.1 L323.5 184.2 L323.8 184.3 L324.2 184.5 L324.5 184.6 L324.8 184.7 L325.1 184.9 L325.5 185.0 L325.8 185.2 L326.1 185.3 L326.5 185.4 L326.8 185.6 L327.1 185.7 L327.5 185.8 L327.8 186.0 L328.1 186.1 L328.5 186.3 L328.8 186.4 L329.1 186.5 L329.5 186.7 L329.8 186.8 L330.1 186.9 L330.5 187.1 L330.8 187.2 L331.1 187.3 L331.4 187.5 L331.8 187.6 L332.1 187.8 L332.4 187.9 L332.8 188.0 L333.1 188.2 L333.4 188.3 L333.8 188.4 L334.1 188.6 L334.4 188.7 L334.8 188.8 L335.1 189.0 L335.4 189.1 L335.8 189.3 L336.1 189.4 L336.4 189.5 L336.8 189.7 L337.1 189.8 L337.4 189.9 L337.8 190.1 L338.1 190.2 L338.4 190.3 L338.7 190.5 L339.1 190.6 L339.4 190.8 L339.7 190.9 L340.1 191.0 L340.4 191.2 L340.7 191.3 L341.1 191.4 L341.4 191.6 L341.7 191.7 L342.1 191.9 L342.4 192.0 L342.7 192.1 L343.1 192.3 L343.4 192.4 L343.7 192.5 L344.0 192.7 L344.4 192.8 L344.7 193.0 L345.0 193.1 L345.4 193.2 L345.7 193.4 L346.0 193.5 L346.4 193.7 L346.7 193.8 L347.0 193.9 L347.4 194.1 L347.7 194.2 L348.0 194.4 L348.4 194.5 L348.7 194.6 L349.0 194.8 L349.3 194.9 L349.7 195.1 L350.0 195.2 L350.3 195.3 L350.7 195.5 L351.0 195.6 L351.3 195.8 L351.7 195.9 L352.0 196.1 L352.3 196.2 L352.7 196.3 L353.0 196.5 L353.3 196.6 L353.6 196.8 L354.0 196.9 L354.3 197.0 L354.6 197.2 L355.0 197.3 L355.3 197.5 L355.6 197.6 L356.0 197.8 L356.3 197.9 L356.6 198.0 L357.0 198.2 L357.3 198.3 L357.6 198.5 L357.9 198.6 L358.3 198.8 L358.6 198.9 L358.9 199.0 L359.3 199.2 L359.6 199.3 L359.9 199.5 L360.3 199.6 L360.6 199.8 L360.9 199.9 L361.2 200.0 L361.6 200.2 L361.9 200.3 L362.2 200.5 L362.6 200.6 L362.9 200.8 L363.2 200.9 L363.6 201.0 L363.9 201.2 L364.2 201.3 L364.6 201.5 L364.9 201.6 L365.2 201.8 L365.5 201.9 L365.9 202.1 L366.2 202.2 L366.5 202.3 L366.9 202.5 L367.2 202.6 L367.5 202.8 L367.9 202.9 L368.2 203.1 L368.5 203.2 L368.8 203.3 L369.2 203.5 L369.5 203.6 L369.8 203.8 L370.2 203.9 L370.5 204.1 L370.8 204.2 L371.2 204.3 L371.5 204.5 L371.8 204.6 L372.2 204.8 L372.5 204.9 L372.8 205.0 L373.1 205.2 L373.5 205.3 L373.8 205.5 L374.1 205.6 L374.5 205.7 L374.8 205.9 L375.1 206.0 L375.5 206.2 L375.8 206.3 L376.1 206.4 L376.5 206.6 L376.8 206.7 L377.1 206.8 L377.5 207.0 L377.8 207.1 L378.1 207.2 L378.4 207.4 L378.8 207.5 L379.1 207.6 L379.4 207.8 L379.8 207.9 L380.1 208.0 L380.4 208.2 L380.8 208.3 L381.1 208.4 L381.4 208.6 L381.8 208.7 L382.1 208.8 L382.4 209.0 L382.8 209.1 L383.1 209.2 L383.4 209.3 L383.8 209.5 L384.1 209.6 L384.4 209.7 L384.8 209.9 L385.1 210.0 L385.4 210.1 L385.8 210.2 L386.1 210.4 L386.4 210.5 L386.8 210.6 L387.1 210.7 L387.4 210.9 L387.8 211.0 L388.1 211.1 L388.4 211.2 L388.8 211.4 L389.1 211.5 L389.4 211.6 L389.8 211.7 L390.1 211.9 L390.4 212.0 L390.8 212.1 L391.1 212.2 L391.4 212.4 L391.8 212.5 L392.1 212.6 L392.5 212.7 L392.8 212.8 L393.1 213.0 L393.5 213.1 L393.8 213.2 L394.1 213.3 L394.5 213.5 L394.8 213.6 L395.1 213.7 L395.5 213.8 L395.8 214.0 L396.1 214.1 L396.5 214.2 L396.8 214.3 L397.1 214.4 L397.5 214.6 L397.8 214.7 L398.1 214.8 L398.5 214.9 L398.8 215.1 L399.1 215.2 L399.5 215.3 L399.8 215.4 L400.1 215.6 L400.5 215.7 L400.8 215.8 L401.1 215.9 L401.5 216.0 L401.8 216.2 L402.1 216.3 L402.5 216.4 L402.8 216.5 L403.1 216.7 L403.5 216.8 L403.8 216.9 L404.1 217.0 L404.5 217.2 L404.8 217.3 L405.1 217.4 L405.5 217.5 L405.8 217.7 L406.1 217.8 L406.5 217.9 L406.8 218.0 L407.1 218.2 L407.5 218.3 L407.8 218.4 L408.1 218.6 L408.5 218.7 L408.8 218.8 L409.1 218.9 L409.5 219.1 L409.8 219.2 L410.1 219.3 L410.5 219.4 L410.8 219.6 L411.1 219.7 L411.5 219.8 L411.8 219.9 L412.2 220.1 L412.5 220.2 L412.8 220.3 L413.2 220.4 L413.5 220.6 L413.8 220.7 L414.2 220.8 L414.5 220.9 L414.8 221.1 L415.2 221.2 L415.5 221.3 L415.8 221.4 L416.2 221.6 L416.5 221.7 L416.8 221.8 L417.2 221.9 L417.5 222.1 L417.8 222.2 L418.2 222.3 L418.5 222.4 L418.8 222.6 L419.2 222.7 L419.5 222.8 L419.8 222.9 L420.2 223.1 L420.5 223.2 L420.8 223.3 L421.2 223.4 L421.5 223.6 L421.8 223.7 L422.2 223.8 L422.5 223.9 L422.8 224.0 L423.2 224.2 L423.5 224.3 L423.8 224.4 L424.2 224.5 L424.5 224.7 L424.8 224.8 L425.2 224.9 L425.5 225.0 L425.8 225.1 L426.2 225.3 L426.5 225.4 L426.8 225.5 L427.2 225.6 L427.5 225.7 L427.9 225.9 L428.2 226.0 L428.5 226.1 L428.9 226.2 L429.2 226.3 L429.5 226.4 L429.9 226.6 L430.2 226.7 L430.5 226.8 L430.9 226.9 L431.2 227.0 L431.5 227.2 L431.9 227.3 L432.2 227.4 L432.5 227.5 L432.9 227.6 L433.2 227.7 L433.5 227.8 L433.9 228.0 L434.2 228.1 L434.6 228.2 L434.9 228.3 L435.2 228.4 L435.6 228.5 L435.9 228.6 L436.2 228.8 L436.6 228.9 L436.9 229.0 L437.2 229.1 L437.6 229.2 L437.9 229.3 L438.2 229.4 L438.6 229.5 L438.9 229.6 L439.3 229.8 L439.6 229.9 L439.9 230.0 L440.3 230.1 L440.6 230.2 L440.9 230.3 L441.3 230.4 L441.6 230.5 L442.0 230.6 L442.3 230.7 L442.6 230.8 L443.0 230.9 L443.3 231.1 L443.6 231.2 L444.0 231.3 L444.3 231.4 L444.6 231.5 L445.0 231.6 L445.3 231.7 L445.7 231.8 L446.0 231.9 L446.3 232.0 L446.7 232.1 L447.0 232.2 L447.3 232.3 L447.7 232.4 L448.0 232.5 L448.4 232.6 L448.7 232.7 L449.0 232.8 L449.4 232.9 L449.7 233.0 L450.0 233.1 L450.4 233.2 L450.7 233.3 L451.1 233.4 L451.4 233.5 L451.7 233.6 L452.1 233.7 L452.4 233.8 L452.7 233.9 L453.1 234.0 L453.4 234.1 L453.8 234.2 L454.1 234.3 L454.4 234.4 L454.8 234.5 L455.1 234.6 L455.4 234.7 L455.8 234.8 L456.1 234.9 L456.5 235.0 L456.8 235.1 L457.1 235.2 L457.5 235.3 L457.8 235.4 L458.2 235.5 L458.5 235.6 L458.8 235.7 L459.2 235.8 L459.5 235.9 L459.8 236.0 L460.2 236.1 L460.5 236.1 L460.9 236.2 L461.2 236.3 L461.5 236.4 L461.9 236.5 L462.2 236.6 L462.6 236.7 L462.9 236.8 L463.2 236.9 L463.6 237.0 L463.9 237.1 L464.2 237.2 L464.6 237.3 L464.9 237.4 L465.3 237.5 L465.6 237.6 L465.9 237.7 L466.3 237.8 L466.6 237.9 L467.0 238.0 L467.3 238.0 L467.6 238.1 L468.0 238.2 L468.3 238.3 L468.6 238.4 L469.0 238.5 L469.3 238.6 L469.7 238.7 L470.0 238.8" stroke="#00c000" stroke-dasharray="2.43 2.43"/>
<path d="M86.2 300.2 L86.3 299.9 L86.3 299.6 L86.4 299.3 L86.4 299.0 L86.5 298.7 L86.5 298.4 L86.6 298.1 L86.7 297.8 L86.7 297.5 L86.8 297.3 L86.8 297.0 L86.9 296.7 L86.9 296.4 L87.0 296.1 L87.0 295.8 L87.1 295.5 L87.1 295.2 L87.2 294.9 L87.3 294.6 L87.3 294.3 L87.4 294.0 L87.4 293.7 L87.5 293.4 L87.5 293.1 L87.6 292.8 L87.6 292.5 L87.7 292.2 L87.7 291.9 L87.8 291.6 L87.8 291.4 L87.9 291.1 L87.9 290.8 L88.0 290.5 L88.0 290.2 L88.1 289.9 L88.1 289.6 L88.2 289.3 L88.3 289.0 L88.3 288.7 L88.4 288.4 L88.4 288.1 L88.5 287.8 L88.5 287.5 L88.6 287.2 L88.6 287.1 M90.5 275.0 L90.5 274.7 L90.6 274.4 L90.6 274.1 L90.7 273.8 L90.7 273.5 L90.8 273.2 L90.8 272.9 L90.8 272.6 L90.9 272.3 L90.9 272.0 L91.0 271.7 L91.0 271.4 L91.0 271.1 L91.1 270.8 L91.1 270.5 L91.2 270.2 L91.2 269.9 L91.2 269.6 L91.3 269.3 L91.3 269.0 L91.4 268.7 L91.4 268.4 L91.4 268.1 L91.5 267.8 L91.5 267.5 L91.6 267.2 L91.6 266.9 L91.6 266.6 L91.7 266.3 L91.7 266.0 L91.7 265.7 L91.8 265.5 L91.8 265.2 L91.8 264.9 L91.9 264.6 L91.9 264.3 L92.0 264.0 L92.0 263.7 L92.0 263.4 L92.1 263.1 L92.1 262.9 M93.3 250.9 L93.3 250.6 L93.3 250.3 L93.3 250.0 L93.4 249.7 L93.4 249.4 L93.4 249.1 L93.5 248.8 L93.5 248.5 L93.5 248.2 L93.5 247.9 L93.6 247.6 L93.6 247.3 L93.6 247.0 L93.6 246.7 L93.7 246.4 L93.7 246.1 L93.7 245.8 L93.8 245.6 L93.8 245.3 L93.8 245.0 L93.8 244.7 L93.9 244.4 L93.9 244.1 L93.9 243.8 L94.0 243.5 L94.0 243.2 L94.0 242.9 L94.0 242.6 L94.1 242.3 L94.1 242.0 L94.1 241.7 L94.2 241.4 L94.2 241.1 L94.2 240.8 L94.3 240.5 L94.3 240.2 L94.3 239.9 L94.3 239.6 L94.4 239.3 L94.4 239.2 M95.9 227.0 L96.0 226.7 L96.0 226.4 L96.1 226.1 L96.1 225.8 L96.2 225.5 L96.2 225.2 L96.3 224.9 L96.3 224.6 L96.4 224.3 L96.4 224.0 L96.5 223.7 L96.5 223.4 L96.6 223.1 L96.6 222.8 L96.7 222.5 L96.7 222.2 L96.8 221.9 L96.8 221.7 L96.9 221.4 L96.9 221.1 L97.0 220.8 L97.0 220.5 L97.1 220.2 L97.1 219.9 L97.2 219.6 L97.2 219.3 L97.3 219.0 L97.3 218.7 L97.4 218.4 L97.4 218.1 L97.5 217.8 L97.6 217.5 L97.6 217.2 L97.7 216.9 L97.7 216.6 L97.8 216.3 L97.8 216.0 L97.9 215.8 L98.0 215.5 L98.0 215.2 L98.1 215.0 M100.4 203.1 L100.4 202.8 L100.5 202.5 L100.5 202.2 L100.6 201.9 L100.6 201.6 L100.7 201.3 L100.7 201.0 L100.8 200.7 L100.8 200.4 L100.9 200.1 L100.9 199.8 L101.0 199.5 L101.0 199.2 L101.1 198.9 L101.1 198.6 L101.1 198.4 L101.2 198.1 L101.2 197.8 L101.3 197.5 L101.3 197.2 L101.4 196.9 L101.4 196.6 L101.5 196.3 L101.5 196.0 L101.5 195.7 L101.6 195.4 L101.6 195.1 L101.7 194.8 L101.7 194.5 L101.7 194.2 L101.8 193.9 L101.8 193.6 L101.9 193.3 L101.9 193.0 L101.9 192.7 L102.0 192.4 L102.0 192.1 L102.0 191.8 L102.1 191.5 L102.1 191.2 M104.0 179.0 L104.0 178.7 L104.1 178.4 L104.2 178.1 L104.2 177.8 L104.3 177.5 L104.4 177.2 L104.5 176.9 L104.5 176.6 L104.6 176.3 L104.7 176.1 L104.8 175.8 L104.9 175.5 L105.0 175.2 L105.0 174.9 L105.1 174.6 L105.2 174.3 L105.3 174.0 L105.4 173.8 L105.5 173.5 L105.6 173.2 L105.7 172.9 L105.8 172.6 L105.9 172.3 L106.0 172.1 L106.1 171.8 L106.2 171.5 L106.3 171.2 L106.4 170.9 L106.5 170.6 L106.6 170.4 L106.7 170.1 L106.8 169.8 L106.9 169.5 L107.0 169.2 L107.1 169.0 L107.2 168.7 L107.3 168.4 L107.4 168.1 L107.5 167.8 L107.6 167.5 L107.7 167.4 M111.7 155.7 L111.8 155.4 L111.9 155.2 L112.0 154.9 L112.1 154.6 L112.2 154.3 L112.3 154.0 L112.5 153.8 L112.6 153.5 L112.7 153.2 L112.8 152.9 L112.9 152.7 L113.0 152.4 L113.2 152.1 L113.3 151.8 L113.4 151.6 L113.5 151.3 L113.7 151.0 L113.8 150.8 L113.9 150.5 L114.0 150.2 L114.2 149.9 L114.3 149.7 L114.4 149.4 L114.6 149.1 L114.7 148.9 L114.8 148.6 L115.0 148.3 L115.1 148.1 L115.2 147.8 L115.4 147.5 L115.5 147.3 L115.7 147.0 L115.8 146.7 L115.9 146.5 L116.1 146.2 L116.2 145.9 L116.4 145.7 L116.5 145.4 L116.7 145.2 L116.8 144.9 M124.0 135.1 L124.2 134.8 L124.4 134.6 L124.6 134.4 L124.8 134.2 L125.0 134.0 L125.3 133.8 L125.5 133.5 L125.7 133.3 L125.9 133.1 L126.1 132.9 L126.4 132.7 L126.6 132.5 L126.8 132.3 L127.0 132.1 L127.3 132.0 L127.5 131.8 L127.7 131.6 L128.0 131.4 L128.2 131.2 L128.5 131.0 L128.7 130.9 L128.9 130.7 L129.2 130.5 L129.4 130.4 L129.7 130.2 L129.9 130.0 L130.2 129.9 L130.4 129.7 L130.7 129.5 L131.0 129.4 L131.2 129.2 L131.5 129.1 L131.7 128.9 L132.0 128.8 L132.2 128.6 L132.5 128.5 L132.8 128.3 L133.0 128.1 L133.3 128.0 L133.5 127.8 M144.3 122.5 L144.6 122.4 L144.9 122.3 L145.2 122.3 L145.5 122.2 L145.8 122.1 L146.1 122.1 L146.4 122.0 L146.6 122.0 L146.9 121.9 L147.2 121.9 L147.5 121.8 L147.8 121.8 L148.1 121.8 L148.4 121.7 L148.7 121.7 L149.0 121.7 L149.3 121.7 L149.6 121.6 L149.9 121.6 L150.2 121.6 L150.5 121.6 L150.8 121.6 L151.1 121.5 L151.4 121.5 L151.7 121.5 L152.0 121.5 L152.3 121.5 L152.6 121.5 L152.9 121.5 L153.2 121.5 L153.5 121.5 L153.8 121.5 L154.1 121.5 L154.4 121.5 L154.7 121.5 L155.0 121.5 L155.3 121.5 L155.6 121.5 L155.9 121.5 L156.1 121.5 M168.5 122.6 L168.8 122.6 L169.1 122.7 L169.3 122.7 L169.6 122.8 L169.9 122.9 L170.2 122.9 L170.5 123.0 L170.8 123.1 L171.1 123.1 L171.4 123.2 L171.7 123.3 L172.0 123.3 L172.3 123.4 L172.6 123.5 L172.9 123.5 L173.1 123.6 L173.4 123.7 L173.7 123.8 L174.0 123.8 L174.3 123.9 L174.6 124.0 L174.9 124.1 L175.2 124.1 L175.5 124.2 L175.8 124.3 L176.0 124.4 L176.3 124.5 L176.6 124.5 L176.9 124.6 L177.2 124.7 L177.5 124.8 L177.8 124.9 L178.1 124.9 L178.4 125.0 L178.7 125.1 L178.9 125.2 L179.2 125.2 L179.5 125.3 L179.8 125.4 L180.1 125.5 L180.2 125.5 M192.2 128.5 L192.5 128.6 L192.8 128.6 L193.1 128.7 L193.4 128.8 L193.7 128.9 L194.0 128.9 L194.3 129.0 L194.6 129.1 L194.9 129.2 L195.1 129.2 L195.4 129.3 L195.7 129.4 L196.0 129.4 L196.3 129.5 L196.6 129.6 L196.9 129.7 L197.2 129.8 L197.5 129.8 L197.8 129.9 L198.0 130.0 L198.3 130.1 L198.6 130.2 L198.9 130.2 L199.2 130.3 L199.5 130.4 L199.8 130.5 L200.1 130.6 L200.3 130.7 L200.6 130.8 L200.9 130.8 L201.2 130.9 L201.5 131.0 L201.8 131.1 L202.1 131.2 L202.3 131.3 L202.6 131.4 L202.9 131.5 L203.2 131.6 L203.5 131.7 L203.8 131.8 L203.8 131.9 M215.2 136.9 L215.4 137.1 L215.7 137.2 L216.0 137.3 L216.3 137.4 L216.5 137.5 L216.8 137.6 L217.1 137.7 L217.4 137.8 L217.7 137.9 L217.9 138.0 L218.2 138.1 L218.5 138.2 L218.8 138.3 L219.1 138.4 L219.4 138.5 L219.6 138.6 L219.9 138.7 L220.2 138.8 L220.5 138.9 L220.8 139.0 L221.1 139.1 L221.3 139.2 L221.6 139.3 L221.9 139.4 L222.2 139.5 L222.5 139.6 L222.8 139.7 L223.0 139.8 L223.3 139.9 L223.6 140.0 L223.9 140.1 L224.2 140.2 L224.5 140.3 L224.7 140.4 L225.0 140.5 L225.3 140.6 L225.6 140.7 L225.9 140.8 L226.1 140.9 L226.4 141.1 L226.5 141.1 M237.5 145.9 L237.8 146.0 L238.1 146.1 L238.3 146.2 L238.6 146.4 L238.9 146.5 L239.2 146.6 L239.4 146.7 L239.7 146.8 L240.0 147.0 L240.3 147.1 L240.6 147.2 L240.8 147.3 L241.1 147.4 L241.4 147.5 L241.7 147.6 L241.9 147.8 L242.2 147.9 L242.5 148.0 L242.8 148.1 L243.0 148.2 L243.3 148.3 L243.6 148.4 L243.9 148.6 L244.2 148.7 L244.4 148.8 L244.7 148.9 L245.0 149.0 L245.3 149.1 L245.5 149.3 L245.8 149.4 L246.1 149.5 L246.4 149.6 L246.6 149.7 L246.9 149.8 L247.2 150.0 L247.5 150.1 L247.7 150.2 L248.0 150.3 L248.3 150.5 L248.4 150.5 M259.4 155.6 L259.7 155.7 L260.0 155.9 L260.3 156.0 L260.6 156.1 L260.8 156.2 L261.1 156.3 L261.4 156.5 L261.7 156.6 L261.9 156.7 L262.2 156.8 L262.5 156.9 L262.7 157.1 L263.0 157.2 L263.3 157.3 L263.6 157.4 L263.8 157.5 L264.1 157.7 L264.4 157.8 L264.7 157.9 L264.9 158.0 L265.2 158.2 L265.5 158.3 L265.8 158.4 L266.0 158.5 L266.3 158.6 L266.6 158.8 L266.9 158.9 L267.1 159.0 L267.4 159.1 L267.7 159.2 L268.0 159.4 L268.2 159.5 L268.5 159.6 L268.8 159.7 L269.1 159.9 L269.3 160.0 L269.6 160.1 L269.9 160.2 L270.2 160.3 L270.4 160.5 M281.8 165.6 L282.1 165.7 L282.4 165.8 L282.7 165.9 L282.9 166.1 L283.2 166.2 L283.5 166.3 L283.8 166.4 L284.0 166.6 L284.3 166.7 L284.6 166.8 L284.8 166.9 L285.1 167.0 L285.4 167.2 L285.7 167.3 L285.9 167.4 L286.2 167.5 L286.5 167.7 L286.8 167.8 L287.0 167.9 L287.3 168.0 L287.6 168.2 L287.9 168.3 L288.1 168.4 L288.4 168.5 L288.7 168.7 L288.9 168.8 L289.2 168.9 L289.5 169.0 L289.8 169.1 L290.0 169.3 L290.3 169.4 L290.6 169.5 L290.9 169.6 L291.1 169.8 L291.4 169.9 L291.7 170.0 L292.0 170.1 L292.2 170.3 L292.5 170.4 L292.8 170.5 L292.9 170.6 M303.9 175.6 L304.1 175.7 L304.4 175.8 L304.7 175.9 L305.0 176.1 L305.2 176.2 L305.5 176.3 L305.8 176.4 L306.1 176.6 L306.3 176.7 L306.6 176.8 L306.9 176.9 L307.2 177.1 L307.4 177.2 L307.7 177.3 L308.0 177.4 L308.2 177.6 L308.5 177.7 L308.8 177.8 L309.1 177.9 L309.3 178.0 L309.6 178.2 L309.9 178.3 L310.2 178.4 L310.4 178.5 L310.7 178.7 L311.0 178.8 L311.3 178.9 L311.5 179.0 L311.8 179.2 L312.1 179.3 L312.4 179.4 L312.6 179.5 L312.9 179.6 L313.2 179.8 L313.4 179.9 L313.7 180.0 L314.0 180.1 L314.3 180.2 L314.5 180.4 L314.7 180.4 M326.3 185.4 L326.6 185.5 L326.9 185.6 L327.2 185.7 L327.4 185.8 L327.7 185.9 L328.0 186.1 L328.3 186.2 L328.5 186.3 L328.8 186.4 L329.1 186.5 L329.4 186.6 L329.7 186.7 L329.9 186.9 L330.2 187.0 L330.5 187.1 L330.8 187.2 L331.0 187.3 L331.3 187.4 L331.6 187.5 L331.9 187.7 L332.2 187.8 L332.4 187.9 L332.7 188.0 L333.0 188.1 L333.3 188.2 L333.5 188.3 L333.8 188.5 L334.1 188.6 L334.4 188.7 L334.7 188.8 L334.9 188.9 L335.2 189.0 L335.5 189.1 L335.8 189.3 L336.0 189.4 L336.3 189.5 L336.6 189.6 L336.9 189.7 L337.1 189.8 L337.3 189.9 M348.4 194.5 L348.7 194.6 L349.0 194.8 L349.2 194.9 L349.5 195.0 L349.8 195.1 L350.1 195.2 L350.3 195.3 L350.6 195.5 L350.9 195.6 L351.2 195.7 L351.4 195.8 L351.7 195.9 L352.0 196.1 L352.3 196.2 L352.5 196.3 L352.8 196.4 L353.1 196.5 L353.4 196.6 L353.6 196.8 L353.9 196.9 L354.2 197.0 L354.5 197.1 L354.8 197.2 L355.0 197.4 L355.3 197.5 L355.6 197.6 L355.9 197.7 L356.1 197.8 L356.4 197.9 L356.7 198.1 L357.0 198.2 L357.2 198.3 L357.5 198.4 L357.8 198.5 L358.1 198.7 L358.3 198.8 L358.6 198.9 L358.9 199.0 L359.2 199.1 L359.3 199.2 M370.4 204.0 L370.6 204.1 L370.9 204.2 L371.2 204.3 L371.5 204.5 L371.7 204.6 L372.0 204.7 L372.3 204.8 L372.6 204.9 L372.8 205.0 L373.1 205.2 L373.4 205.3 L373.7 205.4 L373.9 205.5 L374.2 205.6 L374.5 205.7 L374.8 205.9 L375.0 206.0 L375.3 206.1 L375.6 206.2 L375.9 206.3 L376.2 206.4 L376.4 206.6 L376.7 206.7 L377.0 206.8 L377.3 206.9 L377.5 207.0 L377.8 207.1 L378.1 207.2 L378.4 207.3 L378.7 207.5 L378.9 207.6 L379.2 207.7 L379.5 207.8 L379.8 207.9 L380.0 208.0 L380.3 208.1 L380.6 208.2 L380.9 208.4 L381.2 208.5 L381.3 208.5 M392.5 212.7 L392.8 212.8 L393.0 212.9 L393.3 213.0 L393.6 213.2 L393.9 213.3 L394.2 213.4 L394.5 213.5 L394.7 213.6 L395.0 213.7 L395.3 213.8 L395.6 213.9 L395.9 214.0 L396.1 214.1 L396.4 214.2 L396.7 214.3 L397.0 214.4 L397.3 214.5 L397.6 214.6 L397.8 214.7 L398.1 214.8 L398.4 214.9 L398.7 215.0 L399.0 215.1 L399.2 215.2 L399.5 215.3 L399.8 215.4 L400.1 215.5 L400.4 215.6 L400.6 215.7 L400.9 215.8 L401.2 215.9 L401.5 216.1 L401.8 216.2 L402.1 216.3 L402.3 216.4 L402.6 216.5 L402.9 216.6 L403.2 216.7 L403.5 216.8 L403.6 216.9 M415.2 221.2 L415.4 221.3 L415.7 221.4 L416.0 221.5 L416.3 221.6 L416.6 221.7 L416.8 221.8 L417.1 221.9 L417.4 222.0 L417.7 222.1 L418.0 222.2 L418.2 222.3 L418.5 222.5 L418.8 222.6 L419.1 222.7 L419.4 222.8 L419.7 222.9 L419.9 223.0 L420.2 223.1 L420.5 223.2 L420.8 223.3 L421.1 223.4 L421.3 223.5 L421.6 223.6 L421.9 223.7 L422.2 223.8 L422.5 223.9 L422.7 224.0 L423.0 224.1 L423.3 224.2 L423.6 224.3 L423.9 224.4 L424.2 224.5 L424.4 224.6 L424.7 224.7 L425.0 224.8 L425.3 224.9 L425.6 225.0 L425.9 225.1 L426.1 225.2 L426.4 225.3 L426.5 225.4 M438.2 229.4 L438.5 229.5 L438.8 229.6 L439.1 229.7 L439.4 229.8 L439.7 229.9 L439.9 230.0 L440.2 230.1 L440.5 230.2 L440.8 230.3 L441.1 230.3 L441.4 230.4 L441.7 230.5 L441.9 230.6 L442.2 230.7 L442.5 230.8 L442.8 230.9 L443.1 231.0 L443.4 231.1 L443.7 231.2 L443.9 231.3 L444.2 231.3 L444.5 231.4 L444.8 231.5 L445.1 231.6 L445.4 231.7 L445.7 231.8 L445.9 231.9 L446.2 232.0 L446.5 232.1 L446.8 232.1 L447.1 232.2 L447.4 232.3 L447.7 232.4 L448.0 232.5 L448.2 232.6 L448.5 232.7 L448.8 232.7 L449.1 232.8 L449.4 232.9 L449.7 233.0 L449.8 233.0 M461.4 236.4 L461.7 236.5 L462.0 236.6 L462.3 236.6 L462.6 236.7 L462.8 236.8 L463.1 236.9 L463.4 237.0 L463.7 237.0 L464.0 237.1 L464.3 237.2 L464.6 237.3 L464.9 237.4 L465.2 237.4 L465.4 237.5 L465.7 237.6 L466.0 237.7 L466.3 237.8 L466.6 237.9 L466.9 237.9 L467.2 238.0 L467.5 238.1 L467.8 238.2 L468.0 238.3 L468.3 238.3 L468.6 238.4 L468.9 238.5 L469.2 238.6 L469.5 238.7 L469.8 238.7 L470.1 238.8 L470.4 238.9 L470.6 239.0 L470.9 239.1 L471.2 239.1 L471.5 239.2 L471.8 239.3 L472.0 239.4" stroke="#0080ff"/>
</g>
<rect x="64.6" y="14.6" width="407.4" height="287.8" fill="none" stroke="#000" stroke-width="0.85"/>
<g font-family="Liberation Serif, serif" font-size="14.6" fill="#000">
<text x="406.5" y="30.6" text-anchor="end">initial</text>
<path d="M415 26.0 H455" stroke="#a0a0a0" stroke-width="2.4" stroke-dasharray="24.2 12.4" fill="none"/>
<text x="406.5" y="45.1" text-anchor="end"><tspan font-style="italic">q</tspan> = 1</text>
<path d="M415 40.5 H455" stroke="#000" stroke-width="2.4" fill="none"/>
<text x="406.5" y="59.6" text-anchor="end"><tspan font-style="italic">q</tspan> = 1/10</text>
<path d="M415 55.0 H455" stroke="#ff0000" stroke-width="2.4" stroke-dasharray="7.76 1.94" fill="none"/>
<text x="406.5" y="74.2" text-anchor="end"><tspan font-style="italic">q</tspan> = 1/100</text>
<path d="M415 69.6 H455" stroke="#00c000" stroke-width="2.4" stroke-dasharray="2.43 2.43" fill="none"/>
<text x="406.5" y="88.8" text-anchor="end"><tspan font-style="italic">q</tspan> = 0</text>
<path d="M415 84.2 H455" stroke="#0080ff" stroke-width="2.4" stroke-dasharray="12.1 12.1" fill="none"/>
<text x="56" y="306.9" text-anchor="end">0</text>
<text x="56" y="274.9" text-anchor="end">0.05</text>
<text x="56" y="242.9" text-anchor="end">0.1</text>
<text x="56" y="210.9" text-anchor="end">0.15</text>
<text x="56" y="179.0" text-anchor="end">0.2</text>
<text x="56" y="147.0" text-anchor="end">0.25</text>
<text x="56" y="115.0" text-anchor="end">0.3</text>
<text x="56" y="83.0" text-anchor="end">0.35</text>
<text x="56" y="51.1" text-anchor="end">0.4</text>
<text x="56" y="19.1" text-anchor="end">0.45</text>
<text x="66.5" y="322.2" text-anchor="middle">0</text>
<text x="107.2" y="322.2" text-anchor="middle">2</text>
<text x="148.0" y="322.2" text-anchor="middle">4</text>
<text x="188.7" y="322.2" text-anchor="middle">6</text>
<text x="229.5" y="322.2" text-anchor="middle">8</text>
<text x="270.2" y="322.2" text-anchor="middle">10</text>
<text x="310.9" y="322.2" text-anchor="middle">12</text>
<text x="351.7" y="322.2" text-anchor="middle">14</text>
<text x="392.4" y="322.2" text-anchor="middle">16</text>
<text x="433.2" y="322.2" text-anchor="middle">18</text>
<text x="473.9" y="322.2" text-anchor="middle">20</text>
<text x="268.5" y="343.2" text-anchor="middle" font-style="italic">r/a</text>
<text x="350" y="275.8"><tspan font-style="italic">t</tspan> = 4000 <tspan font-style="italic">P</tspan></text>
<g transform="translate(16.9,158) rotate(-90)"><text x="-17.3" y="0" font-size="17.2" stroke="#000" stroke-width="0.12">σ</text><text x="-6.1" y="0">/</text><text x="1.2" y="0" font-size="17.2" stroke="#000" stroke-width="0.12">σ</text><text x="12.1" y="4" font-size="11.5">0</text><path d="M-16.9 -9.5 h6.9" stroke="#000" stroke-width="0.9"/></g>
</g>
</svg>
</body></html>
